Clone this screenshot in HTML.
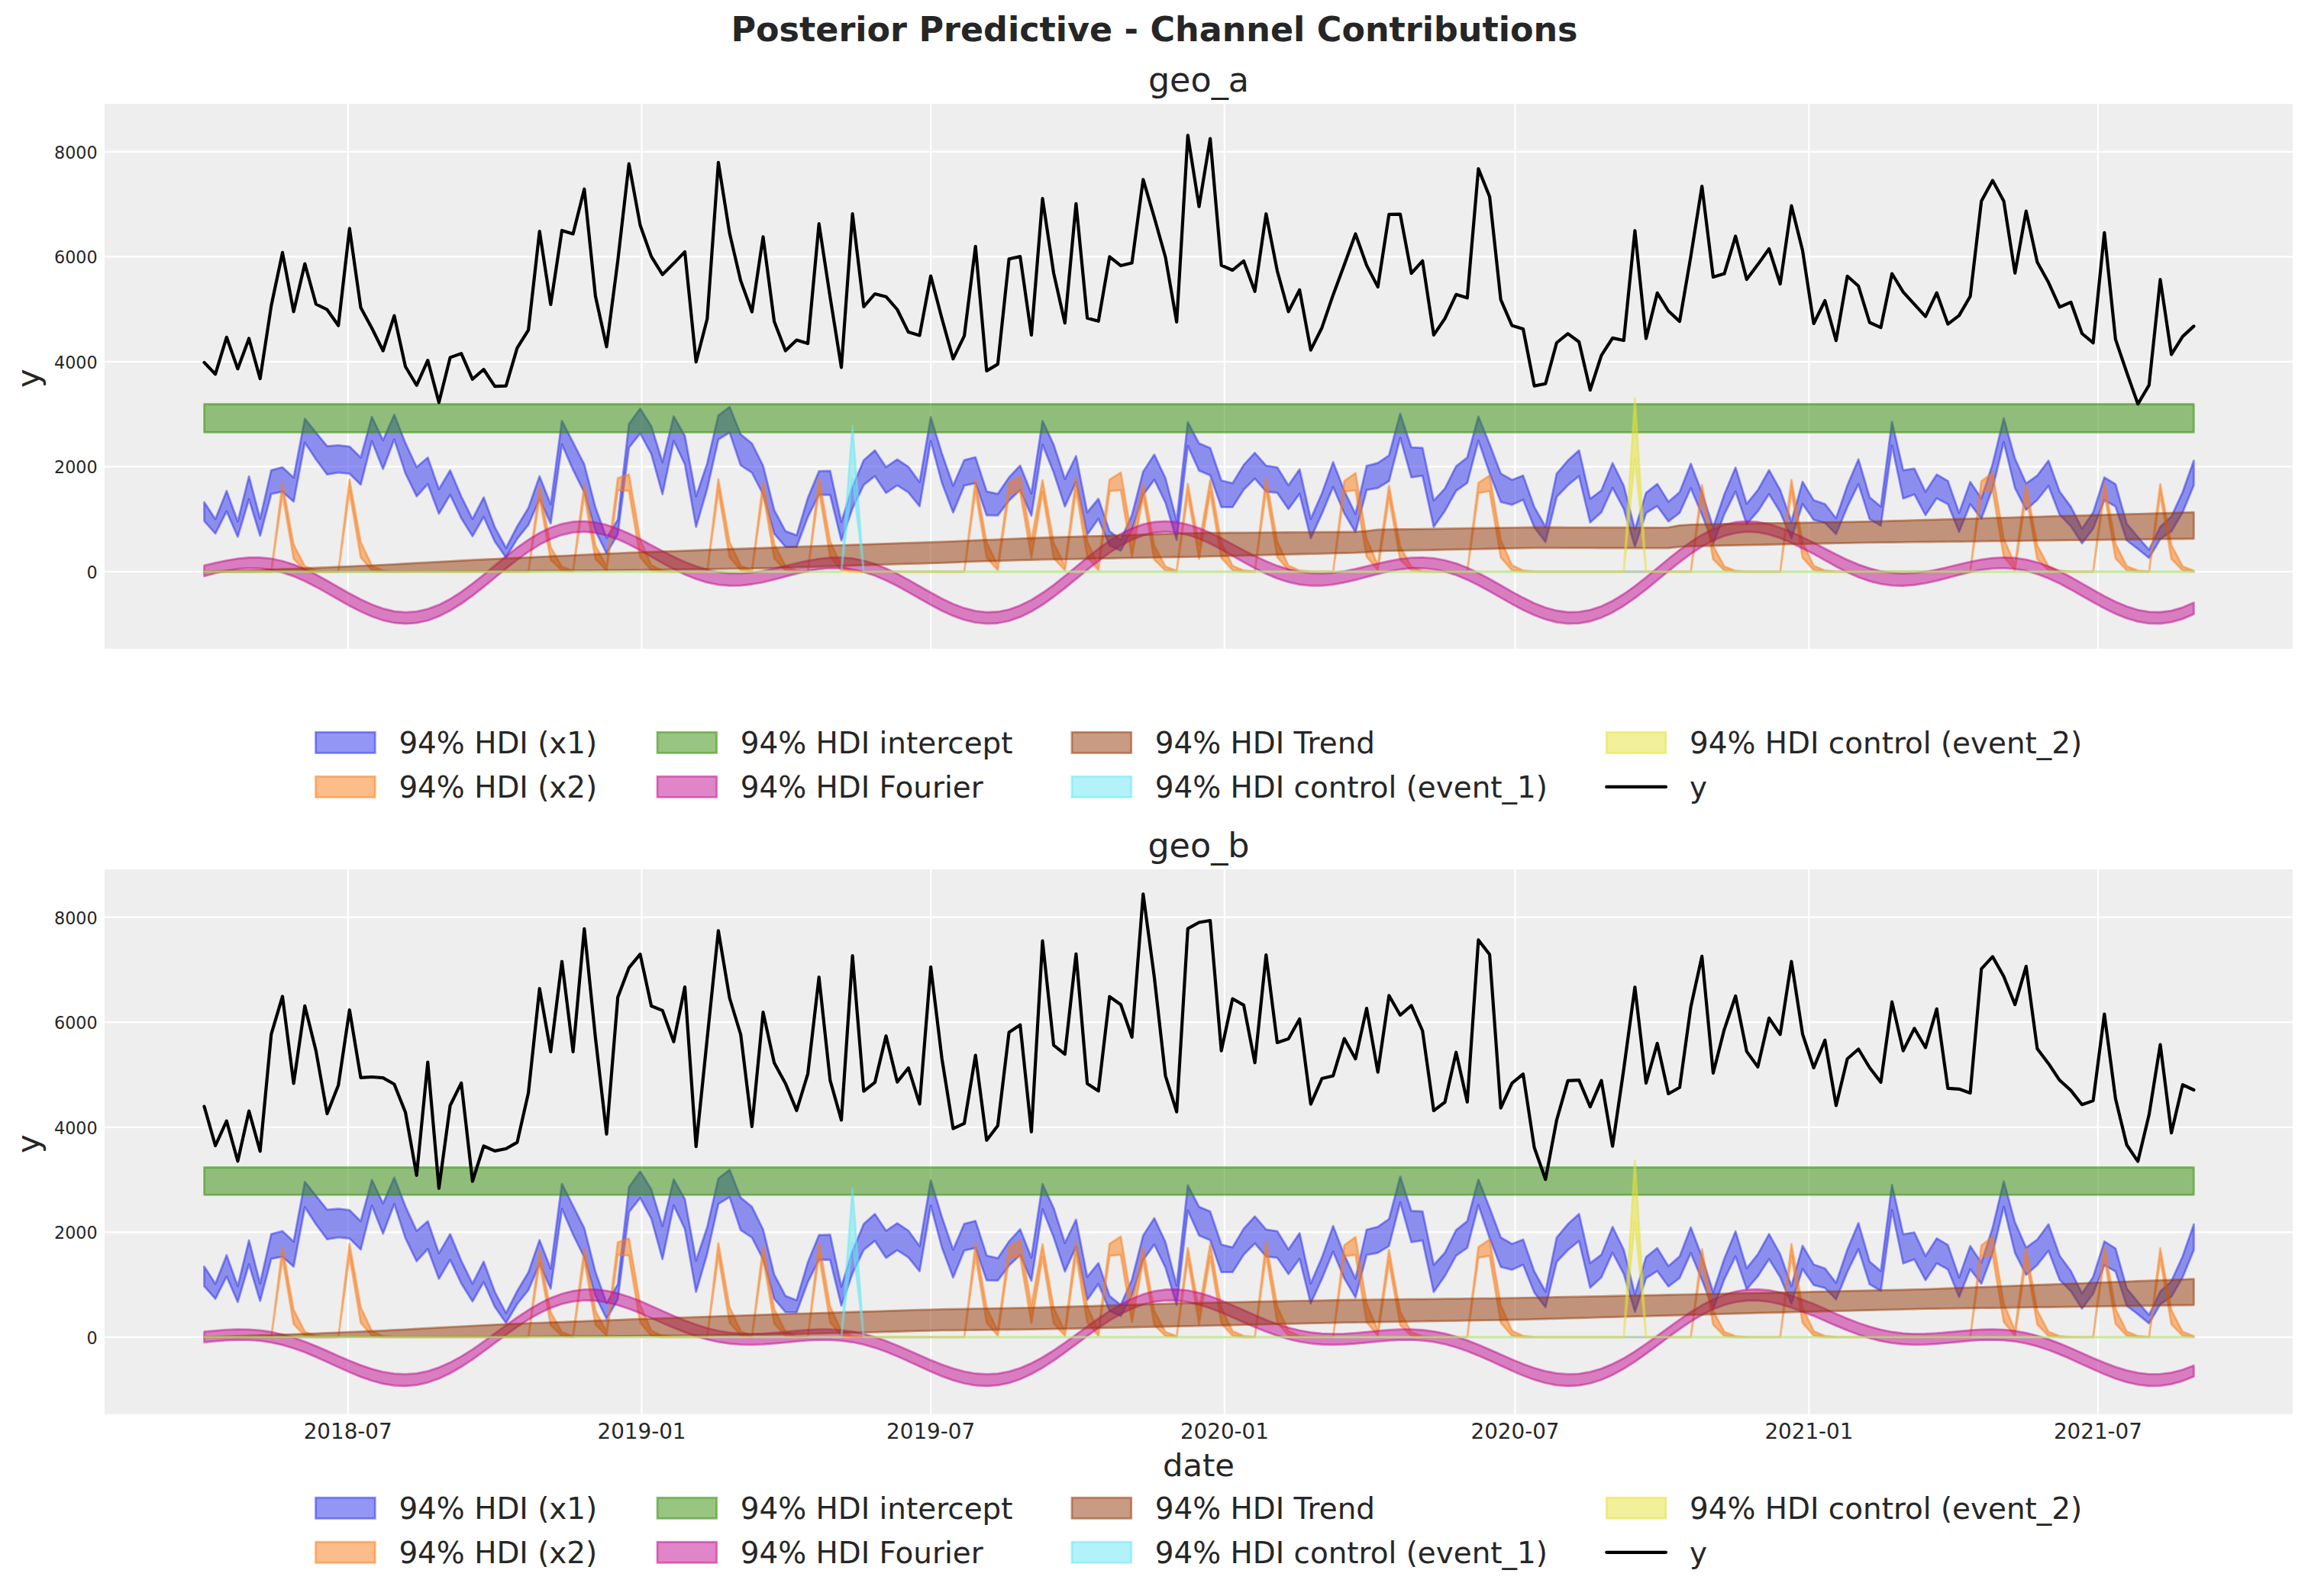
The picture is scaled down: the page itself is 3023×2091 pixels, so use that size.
<!DOCTYPE html>
<html lang="en"><head><meta charset="utf-8"><title>Posterior Predictive - Channel Contributions</title>
<style>html,body{margin:0;padding:0;background:#fff}svg{display:block}</style></head>
<body>
<svg width="3023" height="2091" viewBox="0 0 3023 2091" font-family="'DejaVu Sans', 'Liberation Sans', sans-serif" fill="#262626">
<defs><clipPath id="clip0"><rect x="137.0" y="136.0" width="2865.9" height="713.9"/></clipPath><clipPath id="clip1"><rect x="137.0" y="1138.9" width="2865.9" height="713.9"/></clipPath></defs>
<rect width="3023" height="2091" fill="#ffffff"/>
<text x="1512.0" y="54.2" font-size="44.44" font-weight="bold" text-anchor="middle">Posterior Predictive - Channel Contributions</text>
<rect x="137.0" y="136.0" width="2865.9" height="713.9" fill="#eeeeee"/>
<path d="M455.7,136.0V849.9M840.5,136.0V849.9M1219.1,136.0V849.9M1603.9,136.0V849.9M1984.5,136.0V849.9M2369.4,136.0V849.9M2747.9,136.0V849.9M137.0,749.0H3002.9M137.0,611.4H3002.9M137.0,473.9H3002.9M137.0,336.3H3002.9M137.0,198.8H3002.9" stroke="#ffffff" stroke-width="2.22" fill="none"/>
<g clip-path="url(#clip0)">
<path d="M267.5,657.9 L282.1,680.2 L296.8,643.2 L311.4,683.3 L326.1,624.2 L340.7,679.7 L355.3,616.1 L370.0,612.2 L384.6,625.8 L399.3,548.7 L413.9,566.8 L428.5,584.6 L443.2,583.4 L457.8,585.1 L472.5,599.4 L487.1,546.1 L501.7,576.8 L516.4,543.2 L531.0,580.4 L545.7,612.0 L560.3,599.5 L574.9,641.0 L589.6,616.2 L604.2,650.6 L618.9,680.1 L633.5,651.6 L648.1,690.7 L662.8,718.0 L677.4,689.6 L692.1,665.5 L706.7,623.9 L721.3,660.9 L736.0,551.3 L750.6,579.7 L765.3,608.5 L779.9,664.8 L794.5,705.0 L809.2,680.8 L823.8,555.5 L838.5,535.2 L853.1,558.4 L867.7,605.7 L882.4,545.4 L897.0,571.0 L911.7,650.3 L926.3,607.1 L940.9,544.4 L955.6,533.1 L970.2,569.2 L984.9,581.0 L999.5,610.2 L1014.1,668.4 L1028.8,695.9 L1043.4,701.4 L1058.1,652.4 L1072.7,617.4 L1087.3,616.9 L1102.0,683.9 L1116.6,638.0 L1131.3,603.0 L1145.9,590.1 L1160.5,611.9 L1175.2,602.0 L1189.8,611.6 L1204.5,631.7 L1219.1,546.7 L1233.7,594.1 L1248.4,636.3 L1263.0,602.8 L1277.7,599.1 L1292.3,643.8 L1306.9,647.1 L1321.6,625.5 L1336.2,609.9 L1350.9,646.5 L1365.5,551.5 L1380.1,582.6 L1394.8,627.6 L1409.4,597.5 L1424.1,671.2 L1438.7,653.5 L1453.3,695.9 L1468.0,707.5 L1482.6,674.8 L1497.3,617.9 L1511.9,595.6 L1526.5,626.5 L1541.2,682.5 L1555.8,553.2 L1570.5,580.9 L1585.1,587.0 L1599.7,629.5 L1614.4,633.2 L1629.0,609.1 L1643.6,593.3 L1658.3,610.1 L1672.9,612.3 L1687.6,635.9 L1702.2,614.9 L1716.8,679.9 L1731.5,646.2 L1746.1,605.5 L1760.8,643.2 L1775.4,673.5 L1790.0,610.4 L1804.7,606.6 L1819.3,596.7 L1834.0,542.0 L1848.6,586.2 L1863.2,586.8 L1877.9,655.9 L1892.5,640.1 L1907.2,610.9 L1921.8,599.4 L1936.4,545.7 L1951.1,582.1 L1965.7,620.4 L1980.4,628.7 L1995.0,623.1 L2009.6,664.3 L2024.3,690.3 L2038.9,620.7 L2053.6,603.3 L2068.2,590.1 L2082.8,653.6 L2097.5,642.6 L2112.1,606.7 L2126.8,636.3 L2141.4,693.8 L2156.0,645.6 L2170.7,634.1 L2185.3,657.5 L2200.0,644.8 L2214.6,607.5 L2229.2,645.4 L2243.9,691.0 L2258.5,647.7 L2273.2,612.6 L2287.8,660.2 L2302.4,642.1 L2317.1,616.0 L2331.7,642.0 L2346.4,683.2 L2361.0,631.2 L2375.6,655.4 L2390.3,660.4 L2404.9,679.0 L2419.6,636.1 L2434.2,601.8 L2448.8,651.5 L2463.5,663.8 L2478.1,552.7 L2492.8,616.2 L2507.4,613.9 L2522.0,644.4 L2536.7,621.7 L2551.3,630.1 L2566.0,672.1 L2580.6,631.4 L2595.2,653.0 L2609.9,607.9 L2624.5,548.0 L2639.2,600.9 L2653.8,633.5 L2668.4,623.1 L2683.1,603.5 L2697.7,644.1 L2712.4,663.8 L2727.0,692.7 L2741.6,671.4 L2756.3,625.5 L2770.9,634.5 L2785.6,686.2 L2800.2,703.6 L2814.8,720.4 L2829.5,690.2 L2844.1,676.7 L2858.8,644.8 L2873.4,603.5 L2873.4,635.7 L2858.8,671.2 L2844.1,696.2 L2829.5,706.3 L2814.8,731.0 L2800.2,719.2 L2785.6,708.0 L2770.9,663.6 L2756.3,655.2 L2741.6,692.5 L2727.0,711.8 L2712.4,689.4 L2697.7,674.4 L2683.1,636.5 L2668.4,655.0 L2653.8,667.9 L2639.2,639.4 L2624.5,579.2 L2609.9,639.8 L2595.2,679.4 L2580.6,660.5 L2566.0,696.8 L2551.3,660.6 L2536.7,652.8 L2522.0,674.8 L2507.4,647.7 L2492.8,653.1 L2478.1,583.6 L2463.5,688.7 L2448.8,680.1 L2434.2,634.2 L2419.6,664.2 L2404.9,699.8 L2390.3,684.9 L2375.6,681.2 L2361.0,660.2 L2346.4,705.5 L2331.7,671.0 L2317.1,647.3 L2302.4,669.9 L2287.8,686.6 L2273.2,644.0 L2258.5,673.8 L2243.9,712.4 L2229.2,674.3 L2214.6,639.5 L2200.0,672.0 L2185.3,683.1 L2170.7,662.9 L2156.0,672.1 L2141.4,716.0 L2126.8,666.7 L2112.1,639.0 L2097.5,671.1 L2082.8,684.5 L2068.2,623.7 L2053.6,635.7 L2038.9,651.0 L2024.3,710.1 L2009.6,690.8 L1995.0,654.8 L1980.4,661.3 L1965.7,657.6 L1951.1,620.0 L1936.4,577.1 L1921.8,632.7 L1907.2,643.0 L1892.5,669.4 L1877.9,690.3 L1863.2,623.2 L1848.6,625.4 L1834.0,573.5 L1819.3,630.3 L1804.7,639.3 L1790.0,641.9 L1775.4,697.2 L1760.8,672.5 L1746.1,637.7 L1731.5,672.9 L1716.8,705.1 L1702.2,646.9 L1687.6,666.9 L1672.9,645.6 L1658.3,644.0 L1643.6,626.9 L1629.0,641.6 L1614.4,664.4 L1599.7,664.4 L1585.1,622.8 L1570.5,616.6 L1555.8,584.1 L1541.2,707.3 L1526.5,658.4 L1511.9,628.4 L1497.3,648.5 L1482.6,694.7 L1468.0,721.4 L1453.3,714.7 L1438.7,679.6 L1424.1,700.5 L1409.4,631.3 L1394.8,663.6 L1380.1,619.0 L1365.5,582.6 L1350.9,675.6 L1336.2,642.1 L1321.6,655.8 L1306.9,675.3 L1292.3,675.0 L1277.7,632.9 L1263.0,636.2 L1248.4,671.4 L1233.7,632.4 L1219.1,577.8 L1204.5,663.3 L1189.8,645.1 L1175.2,635.8 L1160.5,645.8 L1145.9,623.7 L1131.3,635.3 L1116.6,666.0 L1102.0,708.0 L1087.3,648.4 L1072.7,648.1 L1058.1,677.3 L1043.4,716.6 L1028.8,716.4 L1014.1,699.2 L999.5,647.6 L984.9,619.3 L970.2,609.7 L955.6,566.6 L940.9,575.7 L926.3,640.4 L911.7,690.3 L897.0,608.2 L882.4,577.5 L867.7,647.5 L853.1,594.9 L838.5,567.8 L823.8,586.4 L809.2,699.9 L794.5,725.0 L779.9,695.5 L765.3,645.0 L750.6,615.6 L736.0,582.1 L721.3,685.9 L706.7,653.8 L692.1,687.6 L677.4,705.9 L662.8,730.4 L648.1,709.5 L633.5,677.1 L618.9,702.5 L604.2,679.0 L589.6,648.2 L574.9,673.0 L560.3,634.2 L545.7,650.2 L531.0,620.1 L516.4,575.6 L501.7,614.4 L487.1,577.9 L472.5,635.0 L457.8,620.6 L443.2,619.1 L428.5,621.7 L413.9,602.0 L399.3,579.8 L384.6,657.2 L370.0,644.2 L355.3,647.1 L340.7,701.9 L326.1,654.0 L311.4,703.3 L296.8,669.9 L282.1,699.1 L267.5,682.6Z" fill="#2a2eec" fill-opacity="0.5" stroke="#2a2eec" stroke-opacity="0.5" stroke-width="2.78" stroke-linejoin="round"/>
<path d="M267.5,749.0 L282.1,749.0 L296.8,749.0 L311.4,749.0 L326.1,749.0 L340.7,749.0 L355.3,749.0 L370.0,633.4 L384.6,713.7 L399.3,741.9 L413.9,747.6 L428.5,748.8 L443.2,749.0 L457.8,628.4 L472.5,710.4 L487.1,741.2 L501.7,747.5 L516.4,748.7 L531.0,749.0 L545.7,749.0 L560.3,749.0 L574.9,749.0 L589.6,749.0 L604.2,749.0 L618.9,749.0 L633.5,749.0 L648.1,749.0 L662.8,749.0 L677.4,749.0 L692.1,749.0 L706.7,637.2 L721.3,716.8 L736.0,742.6 L750.6,747.8 L765.3,634.7 L779.9,714.7 L794.5,742.1 L809.2,626.4 L823.8,621.5 L838.5,706.7 L853.1,740.5 L867.7,747.4 L882.4,748.7 L897.0,749.0 L911.7,749.0 L926.3,749.0 L940.9,627.8 L955.6,710.0 L970.2,741.2 L984.9,747.5 L999.5,632.1 L1014.1,712.8 L1028.8,741.7 L1043.4,747.6 L1058.1,748.8 L1072.7,626.4 L1087.3,709.3 L1102.0,741.0 L1116.6,747.5 L1131.3,748.7 L1145.9,749.0 L1160.5,749.0 L1175.2,749.0 L1189.8,749.0 L1204.5,749.0 L1219.1,749.0 L1233.7,749.0 L1248.4,749.0 L1263.0,749.0 L1277.7,628.9 L1292.3,710.7 L1306.9,741.3 L1321.6,632.7 L1336.2,624.5 L1350.9,708.5 L1365.5,629.1 L1380.1,711.1 L1394.8,741.4 L1409.4,626.2 L1424.1,709.2 L1438.7,741.0 L1453.3,628.5 L1468.0,619.1 L1482.6,705.2 L1497.3,634.6 L1511.9,714.9 L1526.5,742.2 L1541.2,747.7 L1555.8,633.9 L1570.5,714.0 L1585.1,629.0 L1599.7,710.9 L1614.4,741.3 L1629.0,747.5 L1643.6,748.7 L1658.3,626.5 L1672.9,709.3 L1687.6,741.0 L1702.2,747.5 L1716.8,748.7 L1731.5,749.0 L1746.1,749.0 L1760.8,630.2 L1775.4,619.8 L1790.0,705.7 L1804.7,740.2 L1819.3,636.5 L1834.0,716.2 L1848.6,742.5 L1863.2,747.7 L1877.9,748.8 L1892.5,749.0 L1907.2,749.0 L1921.8,749.0 L1936.4,632.7 L1951.1,622.9 L1965.7,707.5 L1980.4,740.6 L1995.0,747.4 L2009.6,748.7 L2024.3,749.0 L2038.9,749.0 L2053.6,749.0 L2068.2,749.0 L2082.8,749.0 L2097.5,749.0 L2112.1,749.0 L2126.8,749.0 L2141.4,749.0 L2156.0,749.0 L2170.7,749.0 L2185.3,749.0 L2200.0,749.0 L2214.6,749.0 L2229.2,635.4 L2243.9,715.2 L2258.5,742.2 L2273.2,747.7 L2287.8,748.8 L2302.4,749.0 L2317.1,749.0 L2331.7,749.0 L2346.4,628.7 L2361.0,710.6 L2375.6,741.3 L2390.3,747.5 L2404.9,748.7 L2419.6,749.0 L2434.2,749.0 L2448.8,749.0 L2463.5,749.0 L2478.1,749.0 L2492.8,749.0 L2507.4,749.0 L2522.0,749.0 L2536.7,749.0 L2551.3,749.0 L2566.0,749.0 L2580.6,749.0 L2595.2,630.4 L2609.9,619.5 L2624.5,705.5 L2639.2,740.2 L2653.8,634.5 L2668.4,714.5 L2683.1,742.1 L2697.7,747.7 L2712.4,748.8 L2727.0,749.0 L2741.6,749.0 L2756.3,631.9 L2770.9,712.6 L2785.6,741.7 L2800.2,747.6 L2814.8,748.7 L2829.5,634.3 L2844.1,714.3 L2858.8,742.0 L2873.4,747.7 L2873.4,748.9 L2858.8,747.2 L2844.1,732.3 L2829.5,647.7 L2814.8,749.0 L2800.2,748.9 L2785.6,747.1 L2770.9,731.5 L2756.3,645.3 L2741.6,749.0 L2727.0,749.0 L2712.4,749.0 L2697.7,748.9 L2683.1,747.3 L2668.4,732.6 L2653.8,648.3 L2639.2,747.0 L2624.5,729.3 L2609.9,642.2 L2595.2,644.2 L2580.6,749.0 L2566.0,749.0 L2551.3,749.0 L2536.7,749.0 L2522.0,749.0 L2507.4,749.0 L2492.8,749.0 L2478.1,749.0 L2463.5,749.0 L2448.8,749.0 L2434.2,749.0 L2419.6,749.0 L2404.9,749.0 L2390.3,748.9 L2375.6,747.0 L2361.0,730.5 L2346.4,643.2 L2331.7,749.0 L2317.1,749.0 L2302.4,749.0 L2287.8,749.0 L2273.2,748.9 L2258.5,747.3 L2243.9,732.8 L2229.2,649.1 L2214.6,749.0 L2200.0,749.0 L2185.3,749.0 L2170.7,749.0 L2156.0,749.0 L2141.4,749.0 L2126.8,749.0 L2112.1,749.0 L2097.5,749.0 L2082.8,749.0 L2068.2,749.0 L2053.6,749.0 L2038.9,749.0 L2024.3,749.0 L2009.6,749.0 L1995.0,748.9 L1980.4,747.1 L1965.7,730.3 L1951.1,643.4 L1936.4,646.0 L1921.8,749.0 L1907.2,749.0 L1892.5,749.0 L1877.9,749.0 L1863.2,748.9 L1848.6,747.4 L1834.0,733.4 L1819.3,651.3 L1804.7,747.0 L1790.0,729.4 L1775.4,642.3 L1760.8,644.1 L1746.1,749.0 L1731.5,749.0 L1716.8,749.0 L1702.2,748.9 L1687.6,747.0 L1672.9,729.8 L1658.3,642.2 L1643.6,749.0 L1629.0,748.9 L1614.4,747.1 L1599.7,731.0 L1585.1,644.4 L1570.5,732.2 L1555.8,647.3 L1541.2,748.9 L1526.5,747.4 L1511.9,733.2 L1497.3,650.1 L1482.6,729.2 L1468.0,642.1 L1453.3,643.4 L1438.7,747.0 L1424.1,729.9 L1409.4,642.3 L1394.8,747.1 L1380.1,731.2 L1365.5,644.7 L1350.9,730.8 L1336.2,644.2 L1321.6,646.3 L1306.9,747.0 L1292.3,730.5 L1277.7,643.3 L1263.0,749.0 L1248.4,749.0 L1233.7,749.0 L1219.1,749.0 L1204.5,749.0 L1189.8,749.0 L1175.2,749.0 L1160.5,749.0 L1145.9,749.0 L1131.3,749.0 L1116.6,748.9 L1102.0,747.0 L1087.3,729.8 L1072.7,642.2 L1058.1,749.0 L1043.4,748.9 L1028.8,747.2 L1014.1,731.6 L999.5,645.6 L984.9,748.9 L970.2,747.0 L955.6,730.2 L940.9,642.7 L926.3,749.0 L911.7,749.0 L897.0,749.0 L882.4,749.0 L867.7,748.9 L853.1,747.1 L838.5,730.0 L823.8,643.1 L809.2,642.4 L794.5,747.3 L779.9,732.5 L765.3,648.3 L750.6,748.9 L736.0,747.4 L721.3,733.5 L706.7,651.9 L692.1,749.0 L677.4,749.0 L662.8,749.0 L648.1,749.0 L633.5,749.0 L618.9,749.0 L604.2,749.0 L589.6,749.0 L574.9,749.0 L560.3,749.0 L545.7,749.0 L531.0,749.0 L516.4,749.0 L501.7,748.9 L487.1,747.0 L472.5,730.4 L457.8,643.1 L443.2,749.0 L428.5,749.0 L413.9,748.9 L399.3,747.2 L384.6,732.0 L370.0,646.7 L355.3,749.0 L340.7,749.0 L326.1,749.0 L311.4,749.0 L296.8,749.0 L282.1,749.0 L267.5,749.0Z" fill="#fa7c17" fill-opacity="0.5" stroke="#fa7c17" stroke-opacity="0.5" stroke-width="2.78" stroke-linejoin="round"/>
<path d="M267.5,529.5 L282.1,529.5 L296.8,529.5 L311.4,529.5 L326.1,529.5 L340.7,529.5 L355.3,529.5 L370.0,529.5 L384.6,529.5 L399.3,529.5 L413.9,529.5 L428.5,529.5 L443.2,529.5 L457.8,529.5 L472.5,529.5 L487.1,529.5 L501.7,529.5 L516.4,529.5 L531.0,529.5 L545.7,529.5 L560.3,529.5 L574.9,529.5 L589.6,529.5 L604.2,529.5 L618.9,529.5 L633.5,529.5 L648.1,529.5 L662.8,529.5 L677.4,529.5 L692.1,529.5 L706.7,529.5 L721.3,529.5 L736.0,529.5 L750.6,529.5 L765.3,529.5 L779.9,529.5 L794.5,529.5 L809.2,529.5 L823.8,529.5 L838.5,529.5 L853.1,529.5 L867.7,529.5 L882.4,529.5 L897.0,529.5 L911.7,529.5 L926.3,529.5 L940.9,529.5 L955.6,529.5 L970.2,529.5 L984.9,529.5 L999.5,529.5 L1014.1,529.5 L1028.8,529.5 L1043.4,529.5 L1058.1,529.5 L1072.7,529.5 L1087.3,529.5 L1102.0,529.5 L1116.6,529.5 L1131.3,529.5 L1145.9,529.5 L1160.5,529.5 L1175.2,529.5 L1189.8,529.5 L1204.5,529.5 L1219.1,529.5 L1233.7,529.5 L1248.4,529.5 L1263.0,529.5 L1277.7,529.5 L1292.3,529.5 L1306.9,529.5 L1321.6,529.5 L1336.2,529.5 L1350.9,529.5 L1365.5,529.5 L1380.1,529.5 L1394.8,529.5 L1409.4,529.5 L1424.1,529.5 L1438.7,529.5 L1453.3,529.5 L1468.0,529.5 L1482.6,529.5 L1497.3,529.5 L1511.9,529.5 L1526.5,529.5 L1541.2,529.5 L1555.8,529.5 L1570.5,529.5 L1585.1,529.5 L1599.7,529.5 L1614.4,529.5 L1629.0,529.5 L1643.6,529.5 L1658.3,529.5 L1672.9,529.5 L1687.6,529.5 L1702.2,529.5 L1716.8,529.5 L1731.5,529.5 L1746.1,529.5 L1760.8,529.5 L1775.4,529.5 L1790.0,529.5 L1804.7,529.5 L1819.3,529.5 L1834.0,529.5 L1848.6,529.5 L1863.2,529.5 L1877.9,529.5 L1892.5,529.5 L1907.2,529.5 L1921.8,529.5 L1936.4,529.5 L1951.1,529.5 L1965.7,529.5 L1980.4,529.5 L1995.0,529.5 L2009.6,529.5 L2024.3,529.5 L2038.9,529.5 L2053.6,529.5 L2068.2,529.5 L2082.8,529.5 L2097.5,529.5 L2112.1,529.5 L2126.8,529.5 L2141.4,529.5 L2156.0,529.5 L2170.7,529.5 L2185.3,529.5 L2200.0,529.5 L2214.6,529.5 L2229.2,529.5 L2243.9,529.5 L2258.5,529.5 L2273.2,529.5 L2287.8,529.5 L2302.4,529.5 L2317.1,529.5 L2331.7,529.5 L2346.4,529.5 L2361.0,529.5 L2375.6,529.5 L2390.3,529.5 L2404.9,529.5 L2419.6,529.5 L2434.2,529.5 L2448.8,529.5 L2463.5,529.5 L2478.1,529.5 L2492.8,529.5 L2507.4,529.5 L2522.0,529.5 L2536.7,529.5 L2551.3,529.5 L2566.0,529.5 L2580.6,529.5 L2595.2,529.5 L2609.9,529.5 L2624.5,529.5 L2639.2,529.5 L2653.8,529.5 L2668.4,529.5 L2683.1,529.5 L2697.7,529.5 L2712.4,529.5 L2727.0,529.5 L2741.6,529.5 L2756.3,529.5 L2770.9,529.5 L2785.6,529.5 L2800.2,529.5 L2814.8,529.5 L2829.5,529.5 L2844.1,529.5 L2858.8,529.5 L2873.4,529.5 L2873.4,566.4 L2858.8,566.4 L2844.1,566.4 L2829.5,566.4 L2814.8,566.4 L2800.2,566.4 L2785.6,566.4 L2770.9,566.4 L2756.3,566.4 L2741.6,566.4 L2727.0,566.4 L2712.4,566.4 L2697.7,566.4 L2683.1,566.4 L2668.4,566.4 L2653.8,566.4 L2639.2,566.4 L2624.5,566.4 L2609.9,566.4 L2595.2,566.4 L2580.6,566.4 L2566.0,566.4 L2551.3,566.4 L2536.7,566.4 L2522.0,566.4 L2507.4,566.4 L2492.8,566.4 L2478.1,566.4 L2463.5,566.4 L2448.8,566.4 L2434.2,566.4 L2419.6,566.4 L2404.9,566.4 L2390.3,566.4 L2375.6,566.4 L2361.0,566.4 L2346.4,566.4 L2331.7,566.4 L2317.1,566.4 L2302.4,566.4 L2287.8,566.4 L2273.2,566.4 L2258.5,566.4 L2243.9,566.4 L2229.2,566.4 L2214.6,566.4 L2200.0,566.4 L2185.3,566.4 L2170.7,566.4 L2156.0,566.4 L2141.4,566.4 L2126.8,566.4 L2112.1,566.4 L2097.5,566.4 L2082.8,566.4 L2068.2,566.4 L2053.6,566.4 L2038.9,566.4 L2024.3,566.4 L2009.6,566.4 L1995.0,566.4 L1980.4,566.4 L1965.7,566.4 L1951.1,566.4 L1936.4,566.4 L1921.8,566.4 L1907.2,566.4 L1892.5,566.4 L1877.9,566.4 L1863.2,566.4 L1848.6,566.4 L1834.0,566.4 L1819.3,566.4 L1804.7,566.4 L1790.0,566.4 L1775.4,566.4 L1760.8,566.4 L1746.1,566.4 L1731.5,566.4 L1716.8,566.4 L1702.2,566.4 L1687.6,566.4 L1672.9,566.4 L1658.3,566.4 L1643.6,566.4 L1629.0,566.4 L1614.4,566.4 L1599.7,566.4 L1585.1,566.4 L1570.5,566.4 L1555.8,566.4 L1541.2,566.4 L1526.5,566.4 L1511.9,566.4 L1497.3,566.4 L1482.6,566.4 L1468.0,566.4 L1453.3,566.4 L1438.7,566.4 L1424.1,566.4 L1409.4,566.4 L1394.8,566.4 L1380.1,566.4 L1365.5,566.4 L1350.9,566.4 L1336.2,566.4 L1321.6,566.4 L1306.9,566.4 L1292.3,566.4 L1277.7,566.4 L1263.0,566.4 L1248.4,566.4 L1233.7,566.4 L1219.1,566.4 L1204.5,566.4 L1189.8,566.4 L1175.2,566.4 L1160.5,566.4 L1145.9,566.4 L1131.3,566.4 L1116.6,566.4 L1102.0,566.4 L1087.3,566.4 L1072.7,566.4 L1058.1,566.4 L1043.4,566.4 L1028.8,566.4 L1014.1,566.4 L999.5,566.4 L984.9,566.4 L970.2,566.4 L955.6,566.4 L940.9,566.4 L926.3,566.4 L911.7,566.4 L897.0,566.4 L882.4,566.4 L867.7,566.4 L853.1,566.4 L838.5,566.4 L823.8,566.4 L809.2,566.4 L794.5,566.4 L779.9,566.4 L765.3,566.4 L750.6,566.4 L736.0,566.4 L721.3,566.4 L706.7,566.4 L692.1,566.4 L677.4,566.4 L662.8,566.4 L648.1,566.4 L633.5,566.4 L618.9,566.4 L604.2,566.4 L589.6,566.4 L574.9,566.4 L560.3,566.4 L545.7,566.4 L531.0,566.4 L516.4,566.4 L501.7,566.4 L487.1,566.4 L472.5,566.4 L457.8,566.4 L443.2,566.4 L428.5,566.4 L413.9,566.4 L399.3,566.4 L384.6,566.4 L370.0,566.4 L355.3,566.4 L340.7,566.4 L326.1,566.4 L311.4,566.4 L296.8,566.4 L282.1,566.4 L267.5,566.4Z" fill="#328c06" fill-opacity="0.5" stroke="#328c06" stroke-opacity="0.5" stroke-width="2.78" stroke-linejoin="round"/>
<path d="M267.5,740.9 L282.1,737.4 L296.8,734.3 L311.4,731.8 L326.1,730.5 L340.7,730.5 L355.3,731.9 L370.0,735.0 L384.6,739.6 L399.3,745.6 L413.9,752.8 L428.5,760.8 L443.2,769.2 L457.8,777.5 L472.5,785.3 L487.1,792.0 L501.7,797.3 L516.4,800.8 L531.0,802.2 L545.7,801.2 L560.3,797.9 L574.9,792.4 L589.6,784.8 L604.2,775.4 L618.9,764.6 L633.5,753.0 L648.1,740.9 L662.8,728.9 L677.4,717.5 L692.1,707.2 L706.7,698.3 L721.3,691.3 L736.0,686.4 L750.6,683.5 L765.3,682.9 L779.9,684.4 L794.5,687.7 L809.2,692.7 L823.8,699.0 L838.5,706.2 L853.1,714.2 L867.7,722.0 L882.4,729.5 L897.0,736.2 L911.7,741.9 L926.3,746.4 L940.9,749.5 L955.6,751.1 L970.2,751.2 L984.9,750.1 L999.5,747.9 L1014.1,744.9 L1028.8,741.4 L1043.4,737.9 L1058.1,734.7 L1072.7,732.1 L1087.3,730.6 L1102.0,730.4 L1116.6,731.6 L1131.3,734.5 L1145.9,738.9 L1160.5,744.7 L1175.2,751.7 L1189.8,759.6 L1204.5,768.0 L1219.1,776.3 L1233.7,784.2 L1248.4,791.2 L1263.0,796.7 L1277.7,800.4 L1292.3,802.1 L1306.9,801.5 L1321.6,798.6 L1336.2,793.3 L1350.9,786.0 L1365.5,776.8 L1380.1,766.3 L1394.8,754.7 L1409.4,742.6 L1424.1,730.5 L1438.7,719.0 L1453.3,708.5 L1468.0,699.5 L1482.6,692.2 L1497.3,686.9 L1511.9,683.8 L1526.5,682.9 L1541.2,684.0 L1555.8,687.2 L1570.5,691.9 L1585.1,698.1 L1599.7,705.2 L1614.4,713.1 L1629.0,720.9 L1643.6,728.4 L1658.3,735.3 L1672.9,741.2 L1687.6,745.8 L1702.2,749.1 L1716.8,750.9 L1731.5,751.3 L1746.1,750.3 L1760.8,748.3 L1775.4,745.4 L1790.0,741.9 L1804.7,738.4 L1819.3,735.1 L1834.0,732.4 L1848.6,730.7 L1863.2,730.3 L1877.9,731.4 L1892.5,734.0 L1907.2,738.1 L1921.8,743.8 L1936.4,750.7 L1951.1,758.4 L1965.7,766.8 L1980.4,775.2 L1995.0,783.1 L2009.6,790.2 L2024.3,796.0 L2038.9,800.0 L2053.6,802.0 L2068.2,801.7 L2082.8,799.1 L2097.5,794.2 L2112.1,787.2 L2126.8,778.3 L2141.4,767.8 L2156.0,756.4 L2170.7,744.3 L2185.3,732.2 L2200.0,720.6 L2214.6,710.0 L2229.2,700.7 L2243.9,693.1 L2258.5,687.6 L2273.2,684.1 L2287.8,682.9 L2302.4,683.8 L2317.1,686.6 L2331.7,691.2 L2346.4,697.1 L2361.0,704.1 L2375.6,710.9 L2390.3,718.7 L2404.9,726.3 L2419.6,733.4 L2434.2,739.6 L2448.8,744.6 L2463.5,748.3 L2478.1,750.5 L2492.8,751.3 L2507.4,750.7 L2522.0,749.0 L2536.7,746.3 L2551.3,743.0 L2566.0,739.4 L2580.6,736.0 L2595.2,733.1 L2609.9,731.1 L2624.5,730.3 L2639.2,730.9 L2653.8,733.1 L2668.4,736.8 L2683.1,742.0 L2697.7,748.6 L2712.4,756.1 L2727.0,764.4 L2741.6,772.8 L2756.3,780.9 L2770.9,788.3 L2785.6,794.5 L2800.2,799.1 L2814.8,801.6 L2829.5,802.0 L2844.1,800.1 L2858.8,795.8 L2873.4,789.4 L2873.4,804.6 L2858.8,810.9 L2844.1,815.1 L2829.5,817.0 L2814.8,816.8 L2800.2,814.4 L2785.6,810.1 L2770.9,804.2 L2756.3,797.0 L2741.6,789.0 L2727.0,780.7 L2712.4,772.4 L2697.7,764.6 L2683.1,757.7 L2668.4,752.1 L2653.8,747.9 L2639.2,745.3 L2624.5,744.3 L2609.9,744.8 L2595.2,746.6 L2580.6,749.6 L2566.0,753.2 L2551.3,757.1 L2536.7,760.8 L2522.0,764.1 L2507.4,766.4 L2492.8,767.5 L2478.1,767.1 L2463.5,765.1 L2448.8,761.4 L2434.2,756.3 L2419.6,749.8 L2404.9,742.3 L2390.3,734.1 L2375.6,725.8 L2361.0,718.6 L2346.4,711.2 L2331.7,704.9 L2317.1,700.3 L2302.4,697.4 L2287.8,696.7 L2273.2,698.3 L2258.5,702.1 L2243.9,708.1 L2229.2,716.0 L2214.6,725.7 L2200.0,736.6 L2185.3,748.3 L2170.7,760.3 L2156.0,772.3 L2141.4,783.6 L2126.8,793.7 L2112.1,802.4 L2097.5,809.3 L2082.8,814.1 L2068.2,816.7 L2053.6,817.1 L2038.9,815.3 L2024.3,811.5 L2009.6,806.0 L1995.0,799.2 L1980.4,791.4 L1965.7,783.1 L1951.1,774.7 L1936.4,766.7 L1921.8,759.6 L1907.2,753.5 L1892.5,748.9 L1877.9,745.8 L1863.2,744.4 L1848.6,744.5 L1834.0,746.0 L1819.3,748.6 L1804.7,752.1 L1790.0,755.9 L1775.4,759.8 L1760.8,763.2 L1746.1,765.8 L1731.5,767.3 L1716.8,767.3 L1702.2,765.8 L1687.6,762.6 L1672.9,757.9 L1658.3,751.7 L1643.6,744.5 L1629.0,736.5 L1614.4,728.2 L1599.7,719.7 L1585.1,712.2 L1570.5,705.8 L1555.8,700.8 L1541.2,697.7 L1526.5,696.7 L1511.9,697.9 L1497.3,701.4 L1482.6,707.1 L1468.0,714.8 L1453.3,724.2 L1438.7,734.9 L1424.1,746.6 L1409.4,758.6 L1394.8,770.6 L1380.1,782.0 L1365.5,792.4 L1350.9,801.3 L1336.2,808.4 L1321.6,813.5 L1306.9,816.5 L1292.3,817.1 L1277.7,815.6 L1263.0,812.1 L1248.4,806.9 L1233.7,800.2 L1219.1,792.5 L1204.5,784.3 L1189.8,775.9 L1175.2,767.8 L1160.5,760.5 L1145.9,754.3 L1131.3,749.5 L1116.6,746.2 L1102.0,744.5 L1087.3,744.4 L1072.7,745.7 L1058.1,748.2 L1043.4,751.6 L1028.8,755.4 L1014.1,759.3 L999.5,762.8 L984.9,765.5 L970.2,767.2 L955.6,767.4 L940.9,766.1 L926.3,763.2 L911.7,758.6 L897.0,752.7 L882.4,745.6 L867.7,737.7 L853.1,729.4 L838.5,720.9 L823.8,713.2 L809.2,706.6 L794.5,701.4 L779.9,698.0 L765.3,696.7 L750.6,697.6 L736.0,700.8 L721.3,706.2 L706.7,713.6 L692.1,722.8 L677.4,733.3 L662.8,744.9 L648.1,756.9 L633.5,768.9 L618.9,780.4 L604.2,791.0 L589.6,800.1 L574.9,807.5 L560.3,813.0 L545.7,816.2 L531.0,817.2 L516.4,816.0 L501.7,812.8 L487.1,807.7 L472.5,801.2 L457.8,793.7 L443.2,785.5 L428.5,777.1 L413.9,768.9 L399.3,761.5 L384.6,755.1 L370.0,750.1 L355.3,746.5 L340.7,744.6 L326.1,744.3 L311.4,745.4 L296.8,747.8 L282.1,751.0 L267.5,754.8Z" fill="#c10c90" fill-opacity="0.5" stroke="#c10c90" stroke-opacity="0.5" stroke-width="2.78" stroke-linejoin="round"/>
<path d="M267.5,749.0 L282.1,748.5 L296.8,748.0 L311.4,747.5 L326.1,747.1 L340.7,746.6 L355.3,746.1 L370.0,745.6 L384.6,745.1 L399.3,744.6 L413.9,744.0 L428.5,743.4 L443.2,742.7 L457.8,742.1 L472.5,741.4 L487.1,740.8 L501.7,740.1 L516.4,739.3 L531.0,738.5 L545.7,737.7 L560.3,736.9 L574.9,736.1 L589.6,735.3 L604.2,734.5 L618.9,733.7 L633.5,733.0 L648.1,732.3 L662.8,731.6 L677.4,731.0 L692.1,730.3 L706.7,729.6 L721.3,728.9 L736.0,728.3 L750.6,727.6 L765.3,726.9 L779.9,726.2 L794.5,725.5 L809.2,724.9 L823.8,724.2 L838.5,723.6 L853.1,723.1 L867.7,722.6 L882.4,722.1 L897.0,721.6 L911.7,721.0 L926.3,720.5 L940.9,720.0 L955.6,719.5 L970.2,719.0 L984.9,718.5 L999.5,718.0 L1014.1,717.5 L1028.8,716.9 L1043.4,716.4 L1058.1,715.9 L1072.7,715.4 L1087.3,714.8 L1102.0,714.3 L1116.6,713.8 L1131.3,713.3 L1145.9,712.8 L1160.5,712.3 L1175.2,711.8 L1189.8,711.4 L1204.5,710.9 L1219.1,710.4 L1233.7,709.9 L1248.4,709.3 L1263.0,708.7 L1277.7,708.0 L1292.3,707.4 L1306.9,706.8 L1321.6,706.2 L1336.2,705.6 L1350.9,705.0 L1365.5,704.5 L1380.1,704.0 L1394.8,703.6 L1409.4,703.1 L1424.1,702.7 L1438.7,702.3 L1453.3,701.8 L1468.0,701.4 L1482.6,700.9 L1497.3,700.5 L1511.9,700.0 L1526.5,699.6 L1541.2,699.2 L1555.8,698.7 L1570.5,698.3 L1585.1,698.2 L1599.7,698.1 L1614.4,698.0 L1629.0,697.9 L1643.6,697.8 L1658.3,697.7 L1672.9,697.6 L1687.6,697.5 L1702.2,697.4 L1716.8,697.3 L1731.5,697.2 L1746.1,697.1 L1760.8,697.0 L1775.4,696.9 L1790.0,695.8 L1804.7,693.9 L1819.3,693.7 L1834.0,693.5 L1848.6,693.3 L1863.2,693.1 L1877.9,692.9 L1892.5,692.7 L1907.2,692.4 L1921.8,692.2 L1936.4,692.0 L1951.1,691.8 L1965.7,691.6 L1980.4,691.4 L1995.0,691.2 L2009.6,691.0 L2024.3,691.0 L2038.9,691.0 L2053.6,691.1 L2068.2,691.1 L2082.8,691.1 L2097.5,691.2 L2112.1,691.2 L2126.8,691.2 L2141.4,691.3 L2156.0,691.3 L2170.7,691.3 L2185.3,691.1 L2200.0,688.3 L2214.6,687.3 L2229.2,687.0 L2243.9,686.8 L2258.5,686.5 L2273.2,686.3 L2287.8,686.0 L2302.4,685.8 L2317.1,685.5 L2331.7,685.3 L2346.4,685.1 L2361.0,684.8 L2375.6,684.6 L2390.3,684.3 L2404.9,684.1 L2419.6,683.8 L2434.2,683.6 L2448.8,683.3 L2463.5,682.9 L2478.1,682.5 L2492.8,682.1 L2507.4,681.7 L2522.0,681.2 L2536.7,680.8 L2551.3,680.4 L2566.0,680.0 L2580.6,679.6 L2595.2,679.2 L2609.9,678.7 L2624.5,678.3 L2639.2,677.9 L2653.8,677.5 L2668.4,677.1 L2683.1,676.6 L2697.7,676.2 L2712.4,675.8 L2727.0,675.4 L2741.6,675.0 L2756.3,674.6 L2770.9,674.1 L2785.6,673.7 L2800.2,673.3 L2814.8,672.9 L2829.5,672.5 L2844.1,672.1 L2858.8,671.6 L2873.4,671.2 L2873.4,705.8 L2858.8,706.0 L2844.1,706.2 L2829.5,706.3 L2814.8,706.5 L2800.2,706.7 L2785.6,706.9 L2770.9,707.0 L2756.3,707.2 L2741.6,707.4 L2727.0,707.5 L2712.4,707.7 L2697.7,707.9 L2683.1,708.1 L2668.4,708.2 L2653.8,708.4 L2639.2,708.6 L2624.5,708.8 L2609.9,708.9 L2595.2,709.1 L2580.6,709.3 L2566.0,709.5 L2551.3,709.6 L2536.7,709.8 L2522.0,710.0 L2507.4,710.1 L2492.8,710.3 L2478.1,710.5 L2463.5,710.7 L2448.8,710.8 L2434.2,711.1 L2419.6,711.4 L2404.9,711.7 L2390.3,712.0 L2375.6,712.3 L2361.0,712.6 L2346.4,712.9 L2331.7,713.2 L2317.1,713.5 L2302.4,713.8 L2287.8,714.1 L2273.2,714.4 L2258.5,714.7 L2243.9,715.0 L2229.2,715.3 L2214.6,715.6 L2200.0,716.3 L2185.3,718.0 L2170.7,718.1 L2156.0,718.1 L2141.4,718.0 L2126.8,718.0 L2112.1,718.0 L2097.5,718.0 L2082.8,717.9 L2068.2,717.9 L2053.6,717.9 L2038.9,717.8 L2024.3,717.8 L2009.6,717.8 L1995.0,718.1 L1980.4,718.4 L1965.7,718.7 L1951.1,719.0 L1936.4,719.3 L1921.8,719.6 L1907.2,719.9 L1892.5,720.2 L1877.9,720.5 L1863.2,720.8 L1848.6,721.1 L1834.0,721.4 L1819.3,721.7 L1804.7,722.0 L1790.0,723.3 L1775.4,724.2 L1760.8,724.5 L1746.1,724.9 L1731.5,725.3 L1716.8,725.6 L1702.2,726.0 L1687.6,726.4 L1672.9,726.7 L1658.3,727.1 L1643.6,727.5 L1629.0,727.8 L1614.4,728.2 L1599.7,728.6 L1585.1,728.9 L1570.5,729.3 L1555.8,729.6 L1541.2,729.9 L1526.5,730.1 L1511.9,730.4 L1497.3,730.7 L1482.6,730.9 L1468.0,731.2 L1453.3,731.5 L1438.7,731.7 L1424.1,732.0 L1409.4,732.3 L1394.8,732.6 L1380.1,732.8 L1365.5,733.1 L1350.9,733.5 L1336.2,733.9 L1321.6,734.3 L1306.9,734.8 L1292.3,735.2 L1277.7,735.6 L1263.0,736.2 L1248.4,736.9 L1233.7,737.4 L1219.1,737.9 L1204.5,738.3 L1189.8,738.7 L1175.2,739.1 L1160.5,739.6 L1145.9,740.0 L1131.3,740.4 L1116.6,740.9 L1102.0,741.4 L1087.3,741.8 L1072.7,742.3 L1058.1,742.8 L1043.4,743.2 L1028.8,743.7 L1014.1,744.2 L999.5,744.5 L984.9,744.7 L970.2,744.9 L955.6,745.1 L940.9,745.3 L926.3,745.5 L911.7,745.7 L897.0,745.9 L882.4,746.1 L867.7,746.3 L853.1,746.6 L838.5,746.8 L823.8,746.9 L809.2,747.1 L794.5,747.2 L779.9,747.3 L765.3,747.5 L750.6,747.6 L736.0,747.8 L721.3,747.9 L706.7,748.0 L692.1,748.2 L677.4,748.2 L662.8,748.3 L648.1,748.4 L633.5,748.4 L618.9,748.5 L604.2,748.5 L589.6,748.5 L574.9,748.6 L560.3,748.6 L545.7,748.7 L531.0,748.7 L516.4,748.8 L501.7,748.8 L487.1,748.8 L472.5,748.8 L457.8,748.8 L443.2,748.8 L428.5,748.9 L413.9,748.9 L399.3,748.9 L384.6,748.9 L370.0,748.9 L355.3,748.9 L340.7,748.9 L326.1,749.0 L311.4,749.0 L296.8,749.0 L282.1,749.0 L267.5,749.0Z" fill="#933708" fill-opacity="0.5" stroke="#933708" stroke-opacity="0.5" stroke-width="2.78" stroke-linejoin="round"/>
<path d="M267.5,749.0 L282.1,749.0 L296.8,749.0 L311.4,749.0 L326.1,749.0 L340.7,749.0 L355.3,749.0 L370.0,749.0 L384.6,749.0 L399.3,749.0 L413.9,749.0 L428.5,749.0 L443.2,749.0 L457.8,749.0 L472.5,749.0 L487.1,749.0 L501.7,749.0 L516.4,749.0 L531.0,749.0 L545.7,749.0 L560.3,749.0 L574.9,749.0 L589.6,749.0 L604.2,749.0 L618.9,749.0 L633.5,749.0 L648.1,749.0 L662.8,749.0 L677.4,749.0 L692.1,749.0 L706.7,749.0 L721.3,749.0 L736.0,749.0 L750.6,749.0 L765.3,749.0 L779.9,749.0 L794.5,749.0 L809.2,749.0 L823.8,749.0 L838.5,749.0 L853.1,749.0 L867.7,749.0 L882.4,749.0 L897.0,749.0 L911.7,749.0 L926.3,749.0 L940.9,749.0 L955.6,749.0 L970.2,749.0 L984.9,749.0 L999.5,749.0 L1014.1,749.0 L1028.8,749.0 L1043.4,749.0 L1058.1,749.0 L1072.7,749.0 L1087.3,749.0 L1102.0,749.0 L1116.6,557.8 L1131.3,749.0 L1145.9,749.0 L1160.5,749.0 L1175.2,749.0 L1189.8,749.0 L1204.5,749.0 L1219.1,749.0 L1233.7,749.0 L1248.4,749.0 L1263.0,749.0 L1277.7,749.0 L1292.3,749.0 L1306.9,749.0 L1321.6,749.0 L1336.2,749.0 L1350.9,749.0 L1365.5,749.0 L1380.1,749.0 L1394.8,749.0 L1409.4,749.0 L1424.1,749.0 L1438.7,749.0 L1453.3,749.0 L1468.0,749.0 L1482.6,749.0 L1497.3,749.0 L1511.9,749.0 L1526.5,749.0 L1541.2,749.0 L1555.8,749.0 L1570.5,749.0 L1585.1,749.0 L1599.7,749.0 L1614.4,749.0 L1629.0,749.0 L1643.6,749.0 L1658.3,749.0 L1672.9,749.0 L1687.6,749.0 L1702.2,749.0 L1716.8,749.0 L1731.5,749.0 L1746.1,749.0 L1760.8,749.0 L1775.4,749.0 L1790.0,749.0 L1804.7,749.0 L1819.3,749.0 L1834.0,749.0 L1848.6,749.0 L1863.2,749.0 L1877.9,749.0 L1892.5,749.0 L1907.2,749.0 L1921.8,749.0 L1936.4,749.0 L1951.1,749.0 L1965.7,749.0 L1980.4,749.0 L1995.0,749.0 L2009.6,749.0 L2024.3,749.0 L2038.9,749.0 L2053.6,749.0 L2068.2,749.0 L2082.8,749.0 L2097.5,749.0 L2112.1,749.0 L2126.8,749.0 L2141.4,749.0 L2156.0,749.0 L2170.7,749.0 L2185.3,749.0 L2200.0,749.0 L2214.6,749.0 L2229.2,749.0 L2243.9,749.0 L2258.5,749.0 L2273.2,749.0 L2287.8,749.0 L2302.4,749.0 L2317.1,749.0 L2331.7,749.0 L2346.4,749.0 L2361.0,749.0 L2375.6,749.0 L2390.3,749.0 L2404.9,749.0 L2419.6,749.0 L2434.2,749.0 L2448.8,749.0 L2463.5,749.0 L2478.1,749.0 L2492.8,749.0 L2507.4,749.0 L2522.0,749.0 L2536.7,749.0 L2551.3,749.0 L2566.0,749.0 L2580.6,749.0 L2595.2,749.0 L2609.9,749.0 L2624.5,749.0 L2639.2,749.0 L2653.8,749.0 L2668.4,749.0 L2683.1,749.0 L2697.7,749.0 L2712.4,749.0 L2727.0,749.0 L2741.6,749.0 L2756.3,749.0 L2770.9,749.0 L2785.6,749.0 L2800.2,749.0 L2814.8,749.0 L2829.5,749.0 L2844.1,749.0 L2858.8,749.0 L2873.4,749.0 L2873.4,749.0 L2858.8,749.0 L2844.1,749.0 L2829.5,749.0 L2814.8,749.0 L2800.2,749.0 L2785.6,749.0 L2770.9,749.0 L2756.3,749.0 L2741.6,749.0 L2727.0,749.0 L2712.4,749.0 L2697.7,749.0 L2683.1,749.0 L2668.4,749.0 L2653.8,749.0 L2639.2,749.0 L2624.5,749.0 L2609.9,749.0 L2595.2,749.0 L2580.6,749.0 L2566.0,749.0 L2551.3,749.0 L2536.7,749.0 L2522.0,749.0 L2507.4,749.0 L2492.8,749.0 L2478.1,749.0 L2463.5,749.0 L2448.8,749.0 L2434.2,749.0 L2419.6,749.0 L2404.9,749.0 L2390.3,749.0 L2375.6,749.0 L2361.0,749.0 L2346.4,749.0 L2331.7,749.0 L2317.1,749.0 L2302.4,749.0 L2287.8,749.0 L2273.2,749.0 L2258.5,749.0 L2243.9,749.0 L2229.2,749.0 L2214.6,749.0 L2200.0,749.0 L2185.3,749.0 L2170.7,749.0 L2156.0,749.0 L2141.4,749.0 L2126.8,749.0 L2112.1,749.0 L2097.5,749.0 L2082.8,749.0 L2068.2,749.0 L2053.6,749.0 L2038.9,749.0 L2024.3,749.0 L2009.6,749.0 L1995.0,749.0 L1980.4,749.0 L1965.7,749.0 L1951.1,749.0 L1936.4,749.0 L1921.8,749.0 L1907.2,749.0 L1892.5,749.0 L1877.9,749.0 L1863.2,749.0 L1848.6,749.0 L1834.0,749.0 L1819.3,749.0 L1804.7,749.0 L1790.0,749.0 L1775.4,749.0 L1760.8,749.0 L1746.1,749.0 L1731.5,749.0 L1716.8,749.0 L1702.2,749.0 L1687.6,749.0 L1672.9,749.0 L1658.3,749.0 L1643.6,749.0 L1629.0,749.0 L1614.4,749.0 L1599.7,749.0 L1585.1,749.0 L1570.5,749.0 L1555.8,749.0 L1541.2,749.0 L1526.5,749.0 L1511.9,749.0 L1497.3,749.0 L1482.6,749.0 L1468.0,749.0 L1453.3,749.0 L1438.7,749.0 L1424.1,749.0 L1409.4,749.0 L1394.8,749.0 L1380.1,749.0 L1365.5,749.0 L1350.9,749.0 L1336.2,749.0 L1321.6,749.0 L1306.9,749.0 L1292.3,749.0 L1277.7,749.0 L1263.0,749.0 L1248.4,749.0 L1233.7,749.0 L1219.1,749.0 L1204.5,749.0 L1189.8,749.0 L1175.2,749.0 L1160.5,749.0 L1145.9,749.0 L1131.3,749.0 L1116.6,628.0 L1102.0,749.0 L1087.3,749.0 L1072.7,749.0 L1058.1,749.0 L1043.4,749.0 L1028.8,749.0 L1014.1,749.0 L999.5,749.0 L984.9,749.0 L970.2,749.0 L955.6,749.0 L940.9,749.0 L926.3,749.0 L911.7,749.0 L897.0,749.0 L882.4,749.0 L867.7,749.0 L853.1,749.0 L838.5,749.0 L823.8,749.0 L809.2,749.0 L794.5,749.0 L779.9,749.0 L765.3,749.0 L750.6,749.0 L736.0,749.0 L721.3,749.0 L706.7,749.0 L692.1,749.0 L677.4,749.0 L662.8,749.0 L648.1,749.0 L633.5,749.0 L618.9,749.0 L604.2,749.0 L589.6,749.0 L574.9,749.0 L560.3,749.0 L545.7,749.0 L531.0,749.0 L516.4,749.0 L501.7,749.0 L487.1,749.0 L472.5,749.0 L457.8,749.0 L443.2,749.0 L428.5,749.0 L413.9,749.0 L399.3,749.0 L384.6,749.0 L370.0,749.0 L355.3,749.0 L340.7,749.0 L326.1,749.0 L311.4,749.0 L296.8,749.0 L282.1,749.0 L267.5,749.0Z" fill="#65e5f3" fill-opacity="0.5" stroke="#65e5f3" stroke-opacity="0.5" stroke-width="2.78" stroke-linejoin="round"/>
<path d="M267.5,749.0 L282.1,749.0 L296.8,749.0 L311.4,749.0 L326.1,749.0 L340.7,749.0 L355.3,749.0 L370.0,749.0 L384.6,749.0 L399.3,749.0 L413.9,749.0 L428.5,749.0 L443.2,749.0 L457.8,749.0 L472.5,749.0 L487.1,749.0 L501.7,749.0 L516.4,749.0 L531.0,749.0 L545.7,749.0 L560.3,749.0 L574.9,749.0 L589.6,749.0 L604.2,749.0 L618.9,749.0 L633.5,749.0 L648.1,749.0 L662.8,749.0 L677.4,749.0 L692.1,749.0 L706.7,749.0 L721.3,749.0 L736.0,749.0 L750.6,749.0 L765.3,749.0 L779.9,749.0 L794.5,749.0 L809.2,749.0 L823.8,749.0 L838.5,749.0 L853.1,749.0 L867.7,749.0 L882.4,749.0 L897.0,749.0 L911.7,749.0 L926.3,749.0 L940.9,749.0 L955.6,749.0 L970.2,749.0 L984.9,749.0 L999.5,749.0 L1014.1,749.0 L1028.8,749.0 L1043.4,749.0 L1058.1,749.0 L1072.7,749.0 L1087.3,749.0 L1102.0,749.0 L1116.6,749.0 L1131.3,749.0 L1145.9,749.0 L1160.5,749.0 L1175.2,749.0 L1189.8,749.0 L1204.5,749.0 L1219.1,749.0 L1233.7,749.0 L1248.4,749.0 L1263.0,749.0 L1277.7,749.0 L1292.3,749.0 L1306.9,749.0 L1321.6,749.0 L1336.2,749.0 L1350.9,749.0 L1365.5,749.0 L1380.1,749.0 L1394.8,749.0 L1409.4,749.0 L1424.1,749.0 L1438.7,749.0 L1453.3,749.0 L1468.0,749.0 L1482.6,749.0 L1497.3,749.0 L1511.9,749.0 L1526.5,749.0 L1541.2,749.0 L1555.8,749.0 L1570.5,749.0 L1585.1,749.0 L1599.7,749.0 L1614.4,749.0 L1629.0,749.0 L1643.6,749.0 L1658.3,749.0 L1672.9,749.0 L1687.6,749.0 L1702.2,749.0 L1716.8,749.0 L1731.5,749.0 L1746.1,749.0 L1760.8,749.0 L1775.4,749.0 L1790.0,749.0 L1804.7,749.0 L1819.3,749.0 L1834.0,749.0 L1848.6,749.0 L1863.2,749.0 L1877.9,749.0 L1892.5,749.0 L1907.2,749.0 L1921.8,749.0 L1936.4,749.0 L1951.1,749.0 L1965.7,749.0 L1980.4,749.0 L1995.0,749.0 L2009.6,749.0 L2024.3,749.0 L2038.9,749.0 L2053.6,749.0 L2068.2,749.0 L2082.8,749.0 L2097.5,749.0 L2112.1,749.0 L2126.8,749.0 L2141.4,522.0 L2156.0,749.0 L2170.7,749.0 L2185.3,749.0 L2200.0,749.0 L2214.6,749.0 L2229.2,749.0 L2243.9,749.0 L2258.5,749.0 L2273.2,749.0 L2287.8,749.0 L2302.4,749.0 L2317.1,749.0 L2331.7,749.0 L2346.4,749.0 L2361.0,749.0 L2375.6,749.0 L2390.3,749.0 L2404.9,749.0 L2419.6,749.0 L2434.2,749.0 L2448.8,749.0 L2463.5,749.0 L2478.1,749.0 L2492.8,749.0 L2507.4,749.0 L2522.0,749.0 L2536.7,749.0 L2551.3,749.0 L2566.0,749.0 L2580.6,749.0 L2595.2,749.0 L2609.9,749.0 L2624.5,749.0 L2639.2,749.0 L2653.8,749.0 L2668.4,749.0 L2683.1,749.0 L2697.7,749.0 L2712.4,749.0 L2727.0,749.0 L2741.6,749.0 L2756.3,749.0 L2770.9,749.0 L2785.6,749.0 L2800.2,749.0 L2814.8,749.0 L2829.5,749.0 L2844.1,749.0 L2858.8,749.0 L2873.4,749.0 L2873.4,749.0 L2858.8,749.0 L2844.1,749.0 L2829.5,749.0 L2814.8,749.0 L2800.2,749.0 L2785.6,749.0 L2770.9,749.0 L2756.3,749.0 L2741.6,749.0 L2727.0,749.0 L2712.4,749.0 L2697.7,749.0 L2683.1,749.0 L2668.4,749.0 L2653.8,749.0 L2639.2,749.0 L2624.5,749.0 L2609.9,749.0 L2595.2,749.0 L2580.6,749.0 L2566.0,749.0 L2551.3,749.0 L2536.7,749.0 L2522.0,749.0 L2507.4,749.0 L2492.8,749.0 L2478.1,749.0 L2463.5,749.0 L2448.8,749.0 L2434.2,749.0 L2419.6,749.0 L2404.9,749.0 L2390.3,749.0 L2375.6,749.0 L2361.0,749.0 L2346.4,749.0 L2331.7,749.0 L2317.1,749.0 L2302.4,749.0 L2287.8,749.0 L2273.2,749.0 L2258.5,749.0 L2243.9,749.0 L2229.2,749.0 L2214.6,749.0 L2200.0,749.0 L2185.3,749.0 L2170.7,749.0 L2156.0,749.0 L2141.4,600.7 L2126.8,749.0 L2112.1,749.0 L2097.5,749.0 L2082.8,749.0 L2068.2,749.0 L2053.6,749.0 L2038.9,749.0 L2024.3,749.0 L2009.6,749.0 L1995.0,749.0 L1980.4,749.0 L1965.7,749.0 L1951.1,749.0 L1936.4,749.0 L1921.8,749.0 L1907.2,749.0 L1892.5,749.0 L1877.9,749.0 L1863.2,749.0 L1848.6,749.0 L1834.0,749.0 L1819.3,749.0 L1804.7,749.0 L1790.0,749.0 L1775.4,749.0 L1760.8,749.0 L1746.1,749.0 L1731.5,749.0 L1716.8,749.0 L1702.2,749.0 L1687.6,749.0 L1672.9,749.0 L1658.3,749.0 L1643.6,749.0 L1629.0,749.0 L1614.4,749.0 L1599.7,749.0 L1585.1,749.0 L1570.5,749.0 L1555.8,749.0 L1541.2,749.0 L1526.5,749.0 L1511.9,749.0 L1497.3,749.0 L1482.6,749.0 L1468.0,749.0 L1453.3,749.0 L1438.7,749.0 L1424.1,749.0 L1409.4,749.0 L1394.8,749.0 L1380.1,749.0 L1365.5,749.0 L1350.9,749.0 L1336.2,749.0 L1321.6,749.0 L1306.9,749.0 L1292.3,749.0 L1277.7,749.0 L1263.0,749.0 L1248.4,749.0 L1233.7,749.0 L1219.1,749.0 L1204.5,749.0 L1189.8,749.0 L1175.2,749.0 L1160.5,749.0 L1145.9,749.0 L1131.3,749.0 L1116.6,749.0 L1102.0,749.0 L1087.3,749.0 L1072.7,749.0 L1058.1,749.0 L1043.4,749.0 L1028.8,749.0 L1014.1,749.0 L999.5,749.0 L984.9,749.0 L970.2,749.0 L955.6,749.0 L940.9,749.0 L926.3,749.0 L911.7,749.0 L897.0,749.0 L882.4,749.0 L867.7,749.0 L853.1,749.0 L838.5,749.0 L823.8,749.0 L809.2,749.0 L794.5,749.0 L779.9,749.0 L765.3,749.0 L750.6,749.0 L736.0,749.0 L721.3,749.0 L706.7,749.0 L692.1,749.0 L677.4,749.0 L662.8,749.0 L648.1,749.0 L633.5,749.0 L618.9,749.0 L604.2,749.0 L589.6,749.0 L574.9,749.0 L560.3,749.0 L545.7,749.0 L531.0,749.0 L516.4,749.0 L501.7,749.0 L487.1,749.0 L472.5,749.0 L457.8,749.0 L443.2,749.0 L428.5,749.0 L413.9,749.0 L399.3,749.0 L384.6,749.0 L370.0,749.0 L355.3,749.0 L340.7,749.0 L326.1,749.0 L311.4,749.0 L296.8,749.0 L282.1,749.0 L267.5,749.0Z" fill="#e6e135" fill-opacity="0.5" stroke="#e6e135" stroke-opacity="0.5" stroke-width="2.78" stroke-linejoin="round"/>
<path d="M267.5,474.9 L282.1,490.2 L296.8,441.8 L311.4,483.2 L326.1,443.5 L340.7,496.1 L355.3,400.5 L370.0,330.9 L384.6,408.3 L399.3,345.6 L413.9,398.5 L428.5,405.7 L443.2,426.5 L457.8,299.4 L472.5,403.0 L487.1,430.0 L501.7,459.5 L516.4,413.6 L531.0,480.3 L545.7,504.8 L560.3,472.1 L574.9,527.3 L589.6,468.4 L604.2,463.1 L618.9,496.8 L633.5,484.0 L648.1,506.1 L662.8,505.6 L677.4,455.9 L692.1,432.3 L706.7,303.0 L721.3,398.9 L736.0,301.9 L750.6,306.4 L765.3,247.7 L779.9,388.0 L794.5,454.3 L809.2,341.5 L823.8,214.5 L838.5,295.0 L853.1,336.1 L867.7,359.7 L882.4,345.1 L897.0,329.9 L911.7,474.3 L926.3,417.7 L940.9,212.9 L955.6,305.6 L970.2,367.9 L984.9,408.6 L999.5,310.2 L1014.1,421.3 L1028.8,459.6 L1043.4,445.5 L1058.1,450.0 L1072.7,293.2 L1087.3,389.2 L1102.0,481.4 L1116.6,280.2 L1131.3,401.8 L1145.9,385.0 L1160.5,388.7 L1175.2,405.5 L1189.8,435.1 L1204.5,439.4 L1219.1,361.5 L1233.7,417.2 L1248.4,470.2 L1263.0,440.2 L1277.7,322.8 L1292.3,485.9 L1306.9,477.1 L1321.6,339.2 L1336.2,336.1 L1350.9,439.0 L1365.5,260.1 L1380.1,357.9 L1394.8,423.2 L1409.4,266.8 L1424.1,416.8 L1438.7,420.8 L1453.3,336.4 L1468.0,348.1 L1482.6,344.4 L1497.3,235.2 L1511.9,285.0 L1526.5,337.0 L1541.2,421.8 L1555.8,177.3 L1570.5,270.6 L1585.1,181.5 L1599.7,347.6 L1614.4,354.0 L1629.0,341.9 L1643.6,381.8 L1658.3,280.2 L1672.9,354.7 L1687.6,408.3 L1702.2,379.8 L1716.8,458.6 L1731.5,429.2 L1746.1,386.4 L1760.8,346.8 L1775.4,306.5 L1790.0,347.6 L1804.7,375.9 L1819.3,280.9 L1834.0,280.7 L1848.6,358.1 L1863.2,341.8 L1877.9,438.9 L1892.5,417.3 L1907.2,385.8 L1921.8,390.3 L1936.4,221.1 L1951.1,257.7 L1965.7,392.7 L1980.4,426.6 L1995.0,431.0 L2009.6,505.6 L2024.3,502.8 L2038.9,449.0 L2053.6,437.1 L2068.2,448.0 L2082.8,511.0 L2097.5,465.7 L2112.1,442.9 L2126.8,446.0 L2141.4,302.2 L2156.0,443.5 L2170.7,383.8 L2185.3,407.5 L2200.0,421.1 L2214.6,335.8 L2229.2,244.0 L2243.9,363.0 L2258.5,358.6 L2273.2,309.4 L2287.8,366.0 L2302.4,346.6 L2317.1,326.0 L2331.7,372.0 L2346.4,269.5 L2361.0,328.2 L2375.6,424.0 L2390.3,393.9 L2404.9,446.2 L2419.6,361.8 L2434.2,374.8 L2448.8,422.5 L2463.5,429.1 L2478.1,358.5 L2492.8,382.6 L2507.4,398.7 L2522.0,414.7 L2536.7,383.6 L2551.3,424.6 L2566.0,413.4 L2580.6,388.2 L2595.2,263.5 L2609.9,236.5 L2624.5,263.4 L2639.2,357.8 L2653.8,276.6 L2668.4,343.6 L2683.1,370.1 L2697.7,402.4 L2712.4,395.8 L2727.0,437.0 L2741.6,449.2 L2756.3,304.8 L2770.9,444.6 L2785.6,488.0 L2800.2,529.4 L2814.8,504.6 L2829.5,366.2 L2844.1,464.4 L2858.8,440.9 L2873.4,427.4" fill="none" stroke="#000000" stroke-width="4.17" stroke-linejoin="round" stroke-linecap="round"/>
</g>
<text x="127.6" y="757.9" font-size="22.22" text-anchor="end">0</text>
<text x="127.6" y="620.3" font-size="22.22" text-anchor="end">2000</text>
<text x="127.6" y="482.8" font-size="22.22" text-anchor="end">4000</text>
<text x="127.6" y="345.2" font-size="22.22" text-anchor="end">6000</text>
<text x="127.6" y="207.7" font-size="22.22" text-anchor="end">8000</text>
<text x="1570.0" y="120.1" font-size="44.44" text-anchor="middle">geo_a</text>
<text transform="translate(50.7,495.7) rotate(-90)" font-size="41.67" text-anchor="middle">y</text>
<rect x="413.5" y="959.3" width="77.8" height="27.2" fill="#2a2eec" fill-opacity="0.5" stroke="#2a2eec" stroke-opacity="0.5" stroke-width="2.78"/>
<text x="522.4" y="987.3" font-size="38.89">94% HDI (x1)</text>
<rect x="413.5" y="1017.3" width="77.8" height="27.2" fill="#fa7c17" fill-opacity="0.5" stroke="#fa7c17" stroke-opacity="0.5" stroke-width="2.78"/>
<text x="522.4" y="1045.3" font-size="38.89">94% HDI (x2)</text>
<rect x="860.9" y="959.3" width="77.8" height="27.2" fill="#328c06" fill-opacity="0.5" stroke="#328c06" stroke-opacity="0.5" stroke-width="2.78"/>
<text x="969.8" y="987.3" font-size="38.89">94% HDI intercept</text>
<rect x="860.9" y="1017.3" width="77.8" height="27.2" fill="#c10c90" fill-opacity="0.5" stroke="#c10c90" stroke-opacity="0.5" stroke-width="2.78"/>
<text x="969.8" y="1045.3" font-size="38.89">94% HDI Fourier</text>
<rect x="1403.9" y="959.3" width="77.8" height="27.2" fill="#933708" fill-opacity="0.5" stroke="#933708" stroke-opacity="0.5" stroke-width="2.78"/>
<text x="1512.8" y="987.3" font-size="38.89">94% HDI Trend</text>
<rect x="1403.9" y="1017.3" width="77.8" height="27.2" fill="#65e5f3" fill-opacity="0.5" stroke="#65e5f3" stroke-opacity="0.5" stroke-width="2.78"/>
<text x="1512.8" y="1045.3" font-size="38.89">94% HDI control (event_1)</text>
<rect x="2104.2" y="959.3" width="77.8" height="27.2" fill="#e6e135" fill-opacity="0.5" stroke="#e6e135" stroke-opacity="0.5" stroke-width="2.78"/>
<text x="2213.1" y="987.3" font-size="38.89">94% HDI control (event_2)</text>
<path d="M2104.2,1030.9H2182.0" stroke="#000" stroke-width="4.17" stroke-linecap="round"/>
<text x="2213.1" y="1045.3" font-size="38.89">y</text>
<rect x="137.0" y="1138.9" width="2865.9" height="713.9" fill="#eeeeee"/>
<path d="M455.7,1138.9V1852.8M840.5,1138.9V1852.8M1219.1,1138.9V1852.8M1603.9,1138.9V1852.8M1984.5,1138.9V1852.8M2369.4,1138.9V1852.8M2747.9,1138.9V1852.8M137.0,1751.9H3002.9M137.0,1614.3H3002.9M137.0,1476.8H3002.9M137.0,1339.2H3002.9M137.0,1201.7H3002.9" stroke="#ffffff" stroke-width="2.22" fill="none"/>
<g clip-path="url(#clip1)">
<path d="M267.5,1659.3 L282.1,1682.0 L296.8,1644.4 L311.4,1685.1 L326.1,1625.1 L340.7,1681.5 L355.3,1616.9 L370.0,1612.9 L384.6,1626.7 L399.3,1548.3 L413.9,1566.8 L428.5,1584.9 L443.2,1583.7 L457.8,1585.4 L472.5,1599.9 L487.1,1545.8 L501.7,1576.9 L516.4,1542.8 L531.0,1580.6 L545.7,1612.7 L560.3,1600.0 L574.9,1642.1 L589.6,1616.9 L604.2,1651.9 L618.9,1681.9 L633.5,1653.0 L648.1,1692.6 L662.8,1720.4 L677.4,1691.5 L692.1,1667.0 L706.7,1624.8 L721.3,1662.3 L736.0,1551.0 L750.6,1579.9 L765.3,1609.2 L779.9,1666.4 L794.5,1707.2 L809.2,1682.6 L823.8,1555.3 L838.5,1534.7 L853.1,1558.3 L867.7,1606.3 L882.4,1545.1 L897.0,1571.0 L911.7,1651.7 L926.3,1607.7 L940.9,1544.0 L955.6,1532.6 L970.2,1569.2 L984.9,1581.2 L999.5,1610.9 L1014.1,1670.0 L1028.8,1697.9 L1043.4,1703.5 L1058.1,1653.8 L1072.7,1618.2 L1087.3,1617.7 L1102.0,1685.8 L1116.6,1639.2 L1131.3,1603.6 L1145.9,1590.5 L1160.5,1612.6 L1175.2,1602.6 L1189.8,1612.3 L1204.5,1632.7 L1219.1,1546.4 L1233.7,1594.5 L1248.4,1637.4 L1263.0,1603.4 L1277.7,1599.6 L1292.3,1645.0 L1306.9,1648.4 L1321.6,1626.4 L1336.2,1610.5 L1350.9,1647.7 L1365.5,1551.3 L1380.1,1582.8 L1394.8,1628.5 L1409.4,1597.9 L1424.1,1672.9 L1438.7,1654.9 L1453.3,1697.9 L1468.0,1709.8 L1482.6,1676.5 L1497.3,1618.7 L1511.9,1596.0 L1526.5,1627.4 L1541.2,1684.4 L1555.8,1553.0 L1570.5,1581.1 L1585.1,1587.3 L1599.7,1630.5 L1614.4,1634.3 L1629.0,1609.7 L1643.6,1593.7 L1658.3,1610.8 L1672.9,1613.1 L1687.6,1637.0 L1702.2,1615.6 L1716.8,1681.7 L1731.5,1647.4 L1746.1,1606.2 L1760.8,1644.4 L1775.4,1675.2 L1790.0,1611.0 L1804.7,1607.3 L1819.3,1597.2 L1834.0,1541.5 L1848.6,1586.5 L1863.2,1587.1 L1877.9,1657.3 L1892.5,1641.3 L1907.2,1611.6 L1921.8,1599.9 L1936.4,1545.3 L1951.1,1582.4 L1965.7,1621.3 L1980.4,1629.7 L1995.0,1624.0 L2009.6,1665.8 L2024.3,1692.2 L2038.9,1621.5 L2053.6,1603.8 L2068.2,1590.4 L2082.8,1654.9 L2097.5,1643.8 L2112.1,1607.4 L2126.8,1637.4 L2141.4,1695.8 L2156.0,1646.9 L2170.7,1635.2 L2185.3,1658.9 L2200.0,1646.0 L2214.6,1608.1 L2229.2,1646.6 L2243.9,1693.0 L2258.5,1649.0 L2273.2,1613.3 L2287.8,1661.7 L2302.4,1643.3 L2317.1,1616.8 L2331.7,1643.2 L2346.4,1685.1 L2361.0,1632.2 L2375.6,1656.8 L2390.3,1661.9 L2404.9,1680.8 L2419.6,1637.2 L2434.2,1602.4 L2448.8,1652.9 L2463.5,1665.4 L2478.1,1552.4 L2492.8,1617.0 L2507.4,1614.7 L2522.0,1645.7 L2536.7,1622.5 L2551.3,1631.1 L2566.0,1673.7 L2580.6,1632.4 L2595.2,1654.4 L2609.9,1608.5 L2624.5,1547.7 L2639.2,1601.4 L2653.8,1634.6 L2668.4,1624.0 L2683.1,1604.0 L2697.7,1645.3 L2712.4,1665.3 L2727.0,1694.7 L2741.6,1673.0 L2756.3,1626.4 L2770.9,1635.6 L2785.6,1688.1 L2800.2,1705.8 L2814.8,1722.9 L2829.5,1692.1 L2844.1,1678.4 L2858.8,1646.0 L2873.4,1604.1 L2873.4,1637.8 L2858.8,1673.6 L2844.1,1698.8 L2829.5,1708.9 L2814.8,1733.8 L2800.2,1721.9 L2785.6,1710.6 L2770.9,1665.9 L2756.3,1657.4 L2741.6,1695.0 L2727.0,1714.5 L2712.4,1691.8 L2697.7,1676.8 L2683.1,1638.6 L2668.4,1657.2 L2653.8,1670.2 L2639.2,1641.5 L2624.5,1580.9 L2609.9,1642.0 L2595.2,1681.8 L2580.6,1662.8 L2566.0,1699.3 L2551.3,1662.9 L2536.7,1655.1 L2522.0,1677.2 L2507.4,1649.9 L2492.8,1655.3 L2478.1,1585.3 L2463.5,1691.2 L2448.8,1682.5 L2434.2,1636.3 L2419.6,1666.5 L2404.9,1702.4 L2390.3,1687.4 L2375.6,1683.6 L2361.0,1662.4 L2346.4,1708.1 L2331.7,1673.3 L2317.1,1649.5 L2302.4,1672.2 L2287.8,1689.1 L2273.2,1646.1 L2258.5,1676.2 L2243.9,1715.0 L2229.2,1676.7 L2214.6,1641.6 L2200.0,1674.3 L2185.3,1685.5 L2170.7,1665.2 L2156.0,1674.5 L2141.4,1718.7 L2126.8,1669.0 L2112.1,1641.1 L2097.5,1673.5 L2082.8,1687.0 L2068.2,1625.7 L2053.6,1637.8 L2038.9,1653.2 L2024.3,1712.7 L2009.6,1693.3 L1995.0,1657.1 L1980.4,1663.6 L1965.7,1659.8 L1951.1,1622.0 L1936.4,1578.8 L1921.8,1634.8 L1907.2,1645.1 L1892.5,1671.8 L1877.9,1692.8 L1863.2,1625.2 L1848.6,1627.5 L1834.0,1575.2 L1819.3,1632.4 L1804.7,1641.4 L1790.0,1644.1 L1775.4,1699.8 L1760.8,1674.9 L1746.1,1639.8 L1731.5,1675.3 L1716.8,1707.7 L1702.2,1649.1 L1687.6,1669.2 L1672.9,1647.8 L1658.3,1646.1 L1643.6,1629.0 L1629.0,1643.7 L1614.4,1666.7 L1599.7,1666.7 L1585.1,1624.8 L1570.5,1618.6 L1555.8,1585.8 L1541.2,1709.9 L1526.5,1660.7 L1511.9,1630.5 L1497.3,1650.7 L1482.6,1697.3 L1468.0,1724.1 L1453.3,1717.4 L1438.7,1682.1 L1424.1,1703.0 L1409.4,1633.4 L1394.8,1665.9 L1380.1,1621.0 L1365.5,1584.3 L1350.9,1678.0 L1336.2,1644.2 L1321.6,1658.1 L1306.9,1677.7 L1292.3,1677.4 L1277.7,1635.0 L1263.0,1638.3 L1248.4,1673.7 L1233.7,1634.5 L1219.1,1579.5 L1204.5,1665.6 L1189.8,1647.3 L1175.2,1637.9 L1160.5,1648.0 L1145.9,1625.7 L1131.3,1637.5 L1116.6,1668.3 L1102.0,1710.6 L1087.3,1650.6 L1072.7,1650.3 L1058.1,1679.7 L1043.4,1719.3 L1028.8,1719.1 L1014.1,1701.7 L999.5,1649.8 L984.9,1621.3 L970.2,1611.7 L955.6,1568.3 L940.9,1577.4 L926.3,1642.5 L911.7,1692.7 L897.0,1610.1 L882.4,1579.2 L867.7,1649.7 L853.1,1596.7 L838.5,1569.5 L823.8,1588.1 L809.2,1702.4 L794.5,1727.7 L779.9,1698.0 L765.3,1647.2 L750.6,1617.5 L736.0,1583.8 L721.3,1688.4 L706.7,1656.0 L692.1,1690.1 L677.4,1708.5 L662.8,1733.2 L648.1,1712.1 L633.5,1679.5 L618.9,1705.0 L604.2,1681.4 L589.6,1650.4 L574.9,1675.4 L560.3,1636.3 L545.7,1652.4 L531.0,1622.1 L516.4,1577.3 L501.7,1616.3 L487.1,1579.6 L472.5,1637.1 L457.8,1622.6 L443.2,1621.1 L428.5,1623.7 L413.9,1603.9 L399.3,1581.5 L384.6,1659.4 L370.0,1646.4 L355.3,1649.2 L340.7,1704.5 L326.1,1656.3 L311.4,1705.9 L296.8,1672.3 L282.1,1701.7 L267.5,1685.0Z" fill="#2a2eec" fill-opacity="0.5" stroke="#2a2eec" stroke-opacity="0.5" stroke-width="2.78" stroke-linejoin="round"/>
<path d="M267.5,1751.9 L282.1,1751.9 L296.8,1751.9 L311.4,1751.9 L326.1,1751.9 L340.7,1751.9 L355.3,1751.9 L370.0,1634.6 L384.6,1716.1 L399.3,1744.7 L413.9,1750.5 L428.5,1751.7 L443.2,1751.9 L457.8,1629.5 L472.5,1712.8 L487.1,1744.0 L501.7,1750.4 L516.4,1751.6 L531.0,1751.9 L545.7,1751.9 L560.3,1751.9 L574.9,1751.9 L589.6,1751.9 L604.2,1751.9 L618.9,1751.9 L633.5,1751.9 L648.1,1751.9 L662.8,1751.9 L677.4,1751.9 L692.1,1751.9 L706.7,1638.4 L721.3,1719.2 L736.0,1745.4 L750.6,1750.6 L765.3,1635.9 L779.9,1717.1 L794.5,1744.9 L809.2,1627.5 L823.8,1622.5 L838.5,1709.0 L853.1,1743.2 L867.7,1750.2 L882.4,1751.6 L897.0,1751.9 L911.7,1751.9 L926.3,1751.9 L940.9,1628.8 L955.6,1712.4 L970.2,1743.9 L984.9,1750.4 L999.5,1633.3 L1014.1,1715.1 L1028.8,1744.5 L1043.4,1750.5 L1058.1,1751.6 L1072.7,1627.5 L1087.3,1711.6 L1102.0,1743.8 L1116.6,1750.3 L1131.3,1751.6 L1145.9,1751.9 L1160.5,1751.9 L1175.2,1751.9 L1189.8,1751.9 L1204.5,1751.9 L1219.1,1751.9 L1233.7,1751.9 L1248.4,1751.9 L1263.0,1751.9 L1277.7,1629.9 L1292.3,1713.0 L1306.9,1744.1 L1321.6,1633.8 L1336.2,1625.6 L1350.9,1710.8 L1365.5,1630.2 L1380.1,1713.4 L1394.8,1744.2 L1409.4,1627.3 L1424.1,1711.5 L1438.7,1743.8 L1453.3,1629.6 L1468.0,1620.0 L1482.6,1707.4 L1497.3,1635.8 L1511.9,1717.3 L1526.5,1745.0 L1541.2,1750.6 L1555.8,1635.1 L1570.5,1716.4 L1585.1,1630.1 L1599.7,1713.2 L1614.4,1744.1 L1629.0,1750.4 L1643.6,1751.6 L1658.3,1627.5 L1672.9,1711.6 L1687.6,1743.8 L1702.2,1750.3 L1716.8,1751.6 L1731.5,1751.9 L1746.1,1751.9 L1760.8,1631.3 L1775.4,1620.8 L1790.0,1707.9 L1804.7,1743.0 L1819.3,1637.7 L1834.0,1718.7 L1848.6,1745.3 L1863.2,1750.6 L1877.9,1751.7 L1892.5,1751.9 L1907.2,1751.9 L1921.8,1751.9 L1936.4,1633.8 L1951.1,1623.9 L1965.7,1709.8 L1980.4,1743.4 L1995.0,1750.3 L2009.6,1751.6 L2024.3,1751.9 L2038.9,1751.9 L2053.6,1751.9 L2068.2,1751.9 L2082.8,1751.9 L2097.5,1751.9 L2112.1,1751.9 L2126.8,1751.9 L2141.4,1751.9 L2156.0,1751.9 L2170.7,1751.9 L2185.3,1751.9 L2200.0,1751.9 L2214.6,1751.9 L2229.2,1636.6 L2243.9,1717.6 L2258.5,1745.0 L2273.2,1750.6 L2287.8,1751.7 L2302.4,1751.9 L2317.1,1751.9 L2331.7,1751.9 L2346.4,1629.8 L2361.0,1712.9 L2375.6,1744.1 L2390.3,1750.4 L2404.9,1751.6 L2419.6,1751.9 L2434.2,1751.9 L2448.8,1751.9 L2463.5,1751.9 L2478.1,1751.9 L2492.8,1751.9 L2507.4,1751.9 L2522.0,1751.9 L2536.7,1751.9 L2551.3,1751.9 L2566.0,1751.9 L2580.6,1751.9 L2595.2,1631.5 L2609.9,1620.5 L2624.5,1707.7 L2639.2,1743.0 L2653.8,1635.7 L2668.4,1716.9 L2683.1,1744.9 L2697.7,1750.6 L2712.4,1751.7 L2727.0,1751.9 L2741.6,1751.9 L2756.3,1633.0 L2770.9,1714.9 L2785.6,1744.5 L2800.2,1750.5 L2814.8,1751.6 L2829.5,1635.5 L2844.1,1716.7 L2858.8,1744.8 L2873.4,1750.5 L2873.4,1751.8 L2858.8,1750.1 L2844.1,1735.1 L2829.5,1649.6 L2814.8,1751.9 L2800.2,1751.8 L2785.6,1750.0 L2770.9,1734.2 L2756.3,1647.1 L2741.6,1751.9 L2727.0,1751.9 L2712.4,1751.9 L2697.7,1751.8 L2683.1,1750.2 L2668.4,1735.3 L2653.8,1650.2 L2639.2,1749.9 L2624.5,1732.0 L2609.9,1644.0 L2595.2,1646.1 L2580.6,1751.9 L2566.0,1751.9 L2551.3,1751.9 L2536.7,1751.9 L2522.0,1751.9 L2507.4,1751.9 L2492.8,1751.9 L2478.1,1751.9 L2463.5,1751.9 L2448.8,1751.9 L2434.2,1751.9 L2419.6,1751.9 L2404.9,1751.9 L2390.3,1751.8 L2375.6,1749.9 L2361.0,1733.2 L2346.4,1645.1 L2331.7,1751.9 L2317.1,1751.9 L2302.4,1751.9 L2287.8,1751.9 L2273.2,1751.8 L2258.5,1750.2 L2243.9,1735.5 L2229.2,1651.0 L2214.6,1751.9 L2200.0,1751.9 L2185.3,1751.9 L2170.7,1751.9 L2156.0,1751.9 L2141.4,1751.9 L2126.8,1751.9 L2112.1,1751.9 L2097.5,1751.9 L2082.8,1751.9 L2068.2,1751.9 L2053.6,1751.9 L2038.9,1751.9 L2024.3,1751.9 L2009.6,1751.9 L1995.0,1751.8 L1980.4,1750.0 L1965.7,1733.0 L1951.1,1645.2 L1936.4,1647.9 L1921.8,1751.9 L1907.2,1751.9 L1892.5,1751.9 L1877.9,1751.9 L1863.2,1751.8 L1848.6,1750.2 L1834.0,1736.1 L1819.3,1653.2 L1804.7,1749.9 L1790.0,1732.1 L1775.4,1644.1 L1760.8,1645.9 L1746.1,1751.9 L1731.5,1751.9 L1716.8,1751.9 L1702.2,1751.8 L1687.6,1749.9 L1672.9,1732.5 L1658.3,1644.0 L1643.6,1751.9 L1629.0,1751.8 L1614.4,1750.0 L1599.7,1733.8 L1585.1,1646.2 L1570.5,1734.9 L1555.8,1649.2 L1541.2,1751.8 L1526.5,1750.2 L1511.9,1735.9 L1497.3,1652.0 L1482.6,1731.9 L1468.0,1643.9 L1453.3,1645.2 L1438.7,1749.9 L1424.1,1732.6 L1409.4,1644.1 L1394.8,1750.0 L1380.1,1733.9 L1365.5,1646.6 L1350.9,1733.5 L1336.2,1646.1 L1321.6,1648.2 L1306.9,1749.9 L1292.3,1733.2 L1277.7,1645.1 L1263.0,1751.9 L1248.4,1751.9 L1233.7,1751.9 L1219.1,1751.9 L1204.5,1751.9 L1189.8,1751.9 L1175.2,1751.9 L1160.5,1751.9 L1145.9,1751.9 L1131.3,1751.9 L1116.6,1751.8 L1102.0,1749.9 L1087.3,1732.5 L1072.7,1644.0 L1058.1,1751.9 L1043.4,1751.8 L1028.8,1750.0 L1014.1,1734.3 L999.5,1647.4 L984.9,1751.8 L970.2,1749.9 L955.6,1732.9 L940.9,1644.6 L926.3,1751.9 L911.7,1751.9 L897.0,1751.9 L882.4,1751.9 L867.7,1751.8 L853.1,1750.0 L838.5,1732.8 L823.8,1644.9 L809.2,1644.2 L794.5,1750.1 L779.9,1735.3 L765.3,1650.2 L750.6,1751.8 L736.0,1750.3 L721.3,1736.3 L706.7,1653.9 L692.1,1751.9 L677.4,1751.9 L662.8,1751.9 L648.1,1751.9 L633.5,1751.9 L618.9,1751.9 L604.2,1751.9 L589.6,1751.9 L574.9,1751.9 L560.3,1751.9 L545.7,1751.9 L531.0,1751.9 L516.4,1751.9 L501.7,1751.8 L487.1,1749.9 L472.5,1733.1 L457.8,1644.9 L443.2,1751.9 L428.5,1751.9 L413.9,1751.8 L399.3,1750.1 L384.6,1734.7 L370.0,1648.6 L355.3,1751.9 L340.7,1751.9 L326.1,1751.9 L311.4,1751.9 L296.8,1751.9 L282.1,1751.9 L267.5,1751.9Z" fill="#fa7c17" fill-opacity="0.5" stroke="#fa7c17" stroke-opacity="0.5" stroke-width="2.78" stroke-linejoin="round"/>
<path d="M267.5,1529.5 L282.1,1529.5 L296.8,1529.5 L311.4,1529.5 L326.1,1529.5 L340.7,1529.5 L355.3,1529.5 L370.0,1529.5 L384.6,1529.5 L399.3,1529.5 L413.9,1529.5 L428.5,1529.5 L443.2,1529.5 L457.8,1529.5 L472.5,1529.5 L487.1,1529.5 L501.7,1529.5 L516.4,1529.5 L531.0,1529.5 L545.7,1529.5 L560.3,1529.5 L574.9,1529.5 L589.6,1529.5 L604.2,1529.5 L618.9,1529.5 L633.5,1529.5 L648.1,1529.5 L662.8,1529.5 L677.4,1529.5 L692.1,1529.5 L706.7,1529.5 L721.3,1529.5 L736.0,1529.5 L750.6,1529.5 L765.3,1529.5 L779.9,1529.5 L794.5,1529.5 L809.2,1529.5 L823.8,1529.5 L838.5,1529.5 L853.1,1529.5 L867.7,1529.5 L882.4,1529.5 L897.0,1529.5 L911.7,1529.5 L926.3,1529.5 L940.9,1529.5 L955.6,1529.5 L970.2,1529.5 L984.9,1529.5 L999.5,1529.5 L1014.1,1529.5 L1028.8,1529.5 L1043.4,1529.5 L1058.1,1529.5 L1072.7,1529.5 L1087.3,1529.5 L1102.0,1529.5 L1116.6,1529.5 L1131.3,1529.5 L1145.9,1529.5 L1160.5,1529.5 L1175.2,1529.5 L1189.8,1529.5 L1204.5,1529.5 L1219.1,1529.5 L1233.7,1529.5 L1248.4,1529.5 L1263.0,1529.5 L1277.7,1529.5 L1292.3,1529.5 L1306.9,1529.5 L1321.6,1529.5 L1336.2,1529.5 L1350.9,1529.5 L1365.5,1529.5 L1380.1,1529.5 L1394.8,1529.5 L1409.4,1529.5 L1424.1,1529.5 L1438.7,1529.5 L1453.3,1529.5 L1468.0,1529.5 L1482.6,1529.5 L1497.3,1529.5 L1511.9,1529.5 L1526.5,1529.5 L1541.2,1529.5 L1555.8,1529.5 L1570.5,1529.5 L1585.1,1529.5 L1599.7,1529.5 L1614.4,1529.5 L1629.0,1529.5 L1643.6,1529.5 L1658.3,1529.5 L1672.9,1529.5 L1687.6,1529.5 L1702.2,1529.5 L1716.8,1529.5 L1731.5,1529.5 L1746.1,1529.5 L1760.8,1529.5 L1775.4,1529.5 L1790.0,1529.5 L1804.7,1529.5 L1819.3,1529.5 L1834.0,1529.5 L1848.6,1529.5 L1863.2,1529.5 L1877.9,1529.5 L1892.5,1529.5 L1907.2,1529.5 L1921.8,1529.5 L1936.4,1529.5 L1951.1,1529.5 L1965.7,1529.5 L1980.4,1529.5 L1995.0,1529.5 L2009.6,1529.5 L2024.3,1529.5 L2038.9,1529.5 L2053.6,1529.5 L2068.2,1529.5 L2082.8,1529.5 L2097.5,1529.5 L2112.1,1529.5 L2126.8,1529.5 L2141.4,1529.5 L2156.0,1529.5 L2170.7,1529.5 L2185.3,1529.5 L2200.0,1529.5 L2214.6,1529.5 L2229.2,1529.5 L2243.9,1529.5 L2258.5,1529.5 L2273.2,1529.5 L2287.8,1529.5 L2302.4,1529.5 L2317.1,1529.5 L2331.7,1529.5 L2346.4,1529.5 L2361.0,1529.5 L2375.6,1529.5 L2390.3,1529.5 L2404.9,1529.5 L2419.6,1529.5 L2434.2,1529.5 L2448.8,1529.5 L2463.5,1529.5 L2478.1,1529.5 L2492.8,1529.5 L2507.4,1529.5 L2522.0,1529.5 L2536.7,1529.5 L2551.3,1529.5 L2566.0,1529.5 L2580.6,1529.5 L2595.2,1529.5 L2609.9,1529.5 L2624.5,1529.5 L2639.2,1529.5 L2653.8,1529.5 L2668.4,1529.5 L2683.1,1529.5 L2697.7,1529.5 L2712.4,1529.5 L2727.0,1529.5 L2741.6,1529.5 L2756.3,1529.5 L2770.9,1529.5 L2785.6,1529.5 L2800.2,1529.5 L2814.8,1529.5 L2829.5,1529.5 L2844.1,1529.5 L2858.8,1529.5 L2873.4,1529.5 L2873.4,1565.4 L2858.8,1565.4 L2844.1,1565.4 L2829.5,1565.4 L2814.8,1565.4 L2800.2,1565.4 L2785.6,1565.4 L2770.9,1565.4 L2756.3,1565.4 L2741.6,1565.4 L2727.0,1565.4 L2712.4,1565.4 L2697.7,1565.4 L2683.1,1565.4 L2668.4,1565.4 L2653.8,1565.4 L2639.2,1565.4 L2624.5,1565.4 L2609.9,1565.4 L2595.2,1565.4 L2580.6,1565.4 L2566.0,1565.4 L2551.3,1565.4 L2536.7,1565.4 L2522.0,1565.4 L2507.4,1565.4 L2492.8,1565.4 L2478.1,1565.4 L2463.5,1565.4 L2448.8,1565.4 L2434.2,1565.4 L2419.6,1565.4 L2404.9,1565.4 L2390.3,1565.4 L2375.6,1565.4 L2361.0,1565.4 L2346.4,1565.4 L2331.7,1565.4 L2317.1,1565.4 L2302.4,1565.4 L2287.8,1565.4 L2273.2,1565.4 L2258.5,1565.4 L2243.9,1565.4 L2229.2,1565.4 L2214.6,1565.4 L2200.0,1565.4 L2185.3,1565.4 L2170.7,1565.4 L2156.0,1565.4 L2141.4,1565.4 L2126.8,1565.4 L2112.1,1565.4 L2097.5,1565.4 L2082.8,1565.4 L2068.2,1565.4 L2053.6,1565.4 L2038.9,1565.4 L2024.3,1565.4 L2009.6,1565.4 L1995.0,1565.4 L1980.4,1565.4 L1965.7,1565.4 L1951.1,1565.4 L1936.4,1565.4 L1921.8,1565.4 L1907.2,1565.4 L1892.5,1565.4 L1877.9,1565.4 L1863.2,1565.4 L1848.6,1565.4 L1834.0,1565.4 L1819.3,1565.4 L1804.7,1565.4 L1790.0,1565.4 L1775.4,1565.4 L1760.8,1565.4 L1746.1,1565.4 L1731.5,1565.4 L1716.8,1565.4 L1702.2,1565.4 L1687.6,1565.4 L1672.9,1565.4 L1658.3,1565.4 L1643.6,1565.4 L1629.0,1565.4 L1614.4,1565.4 L1599.7,1565.4 L1585.1,1565.4 L1570.5,1565.4 L1555.8,1565.4 L1541.2,1565.4 L1526.5,1565.4 L1511.9,1565.4 L1497.3,1565.4 L1482.6,1565.4 L1468.0,1565.4 L1453.3,1565.4 L1438.7,1565.4 L1424.1,1565.4 L1409.4,1565.4 L1394.8,1565.4 L1380.1,1565.4 L1365.5,1565.4 L1350.9,1565.4 L1336.2,1565.4 L1321.6,1565.4 L1306.9,1565.4 L1292.3,1565.4 L1277.7,1565.4 L1263.0,1565.4 L1248.4,1565.4 L1233.7,1565.4 L1219.1,1565.4 L1204.5,1565.4 L1189.8,1565.4 L1175.2,1565.4 L1160.5,1565.4 L1145.9,1565.4 L1131.3,1565.4 L1116.6,1565.4 L1102.0,1565.4 L1087.3,1565.4 L1072.7,1565.4 L1058.1,1565.4 L1043.4,1565.4 L1028.8,1565.4 L1014.1,1565.4 L999.5,1565.4 L984.9,1565.4 L970.2,1565.4 L955.6,1565.4 L940.9,1565.4 L926.3,1565.4 L911.7,1565.4 L897.0,1565.4 L882.4,1565.4 L867.7,1565.4 L853.1,1565.4 L838.5,1565.4 L823.8,1565.4 L809.2,1565.4 L794.5,1565.4 L779.9,1565.4 L765.3,1565.4 L750.6,1565.4 L736.0,1565.4 L721.3,1565.4 L706.7,1565.4 L692.1,1565.4 L677.4,1565.4 L662.8,1565.4 L648.1,1565.4 L633.5,1565.4 L618.9,1565.4 L604.2,1565.4 L589.6,1565.4 L574.9,1565.4 L560.3,1565.4 L545.7,1565.4 L531.0,1565.4 L516.4,1565.4 L501.7,1565.4 L487.1,1565.4 L472.5,1565.4 L457.8,1565.4 L443.2,1565.4 L428.5,1565.4 L413.9,1565.4 L399.3,1565.4 L384.6,1565.4 L370.0,1565.4 L355.3,1565.4 L340.7,1565.4 L326.1,1565.4 L311.4,1565.4 L296.8,1565.4 L282.1,1565.4 L267.5,1565.4Z" fill="#328c06" fill-opacity="0.5" stroke="#328c06" stroke-opacity="0.5" stroke-width="2.78" stroke-linejoin="round"/>
<path d="M267.5,1744.7 L282.1,1743.3 L296.8,1742.2 L311.4,1741.6 L326.1,1741.8 L340.7,1742.9 L355.3,1745.0 L370.0,1748.3 L384.6,1752.5 L399.3,1757.7 L413.9,1763.6 L428.5,1769.9 L443.2,1776.4 L457.8,1782.8 L472.5,1788.6 L487.1,1793.6 L501.7,1797.4 L516.4,1799.7 L531.0,1800.4 L545.7,1799.3 L560.3,1796.4 L574.9,1791.6 L589.6,1785.1 L604.2,1777.1 L618.9,1767.9 L633.5,1757.7 L648.1,1747.1 L662.8,1736.4 L677.4,1726.0 L692.1,1716.3 L706.7,1707.7 L721.3,1700.6 L736.0,1695.0 L750.6,1691.3 L765.3,1689.4 L779.9,1689.4 L794.5,1691.1 L809.2,1694.4 L823.8,1699.0 L838.5,1704.5 L853.1,1711.0 L867.7,1717.5 L882.4,1724.0 L897.0,1730.0 L911.7,1735.4 L926.3,1740.0 L940.9,1743.5 L955.6,1745.9 L970.2,1747.2 L984.9,1747.6 L999.5,1747.2 L1014.1,1746.2 L1028.8,1744.9 L1043.4,1743.5 L1058.1,1742.3 L1072.7,1741.6 L1087.3,1741.7 L1102.0,1742.7 L1116.6,1744.7 L1131.3,1747.7 L1145.9,1751.8 L1160.5,1756.9 L1175.2,1762.7 L1189.8,1769.0 L1204.5,1775.5 L1219.1,1781.9 L1233.7,1787.8 L1248.4,1792.9 L1263.0,1796.9 L1277.7,1799.5 L1292.3,1800.4 L1306.9,1799.6 L1321.6,1796.9 L1336.2,1792.4 L1350.9,1786.1 L1365.5,1778.3 L1380.1,1769.2 L1394.8,1759.2 L1409.4,1748.6 L1424.1,1737.9 L1438.7,1727.5 L1453.3,1717.7 L1468.0,1708.9 L1482.6,1701.5 L1497.3,1695.7 L1511.9,1691.7 L1526.5,1689.5 L1541.2,1689.3 L1555.8,1690.7 L1570.5,1693.8 L1585.1,1698.2 L1599.7,1703.7 L1614.4,1710.1 L1629.0,1716.6 L1643.6,1723.1 L1658.3,1729.2 L1672.9,1734.7 L1687.6,1739.4 L1702.2,1743.0 L1716.8,1745.6 L1731.5,1747.1 L1746.1,1747.6 L1760.8,1747.3 L1775.4,1746.4 L1790.0,1745.1 L1804.7,1743.7 L1819.3,1742.4 L1834.0,1741.7 L1848.6,1741.6 L1863.2,1742.5 L1877.9,1744.3 L1892.5,1747.2 L1907.2,1751.2 L1921.8,1756.1 L1936.4,1761.8 L1951.1,1768.1 L1965.7,1774.6 L1980.4,1781.0 L1995.0,1787.0 L2009.6,1792.3 L2024.3,1796.4 L2038.9,1799.2 L2053.6,1800.4 L2068.2,1799.8 L2082.8,1797.4 L2097.5,1793.1 L2112.1,1787.1 L2126.8,1779.5 L2141.4,1770.6 L2156.0,1760.7 L2170.7,1750.2 L2185.3,1739.4 L2200.0,1728.9 L2214.6,1719.0 L2229.2,1710.1 L2243.9,1702.5 L2258.5,1696.4 L2273.2,1692.1 L2287.8,1689.7 L2302.4,1689.2 L2317.1,1690.4 L2331.7,1693.3 L2346.4,1697.5 L2361.0,1702.9 L2375.6,1708.3 L2390.3,1714.7 L2404.9,1721.2 L2419.6,1727.5 L2434.2,1733.2 L2448.8,1738.1 L2463.5,1742.1 L2478.1,1745.0 L2492.8,1746.8 L2507.4,1747.6 L2522.0,1747.5 L2536.7,1746.7 L2551.3,1745.5 L2566.0,1744.1 L2580.6,1742.8 L2595.2,1741.8 L2609.9,1741.6 L2624.5,1742.1 L2639.2,1743.7 L2653.8,1746.3 L2668.4,1750.0 L2683.1,1754.6 L2697.7,1760.1 L2712.4,1766.3 L2727.0,1772.7 L2741.6,1779.2 L2756.3,1785.4 L2770.9,1790.9 L2785.6,1795.4 L2800.2,1798.6 L2814.8,1800.3 L2829.5,1800.2 L2844.1,1798.3 L2858.8,1794.5 L2873.4,1789.0 L2873.4,1803.4 L2858.8,1809.3 L2844.1,1813.4 L2829.5,1815.6 L2814.8,1815.8 L2800.2,1814.1 L2785.6,1810.9 L2770.9,1806.2 L2756.3,1800.5 L2741.6,1794.1 L2727.0,1787.4 L2712.4,1780.7 L2697.7,1774.4 L2683.1,1768.7 L2668.4,1763.9 L2653.8,1760.1 L2639.2,1757.5 L2624.5,1755.9 L2609.9,1755.4 L2595.2,1755.7 L2580.6,1756.6 L2566.0,1758.0 L2551.3,1759.4 L2536.7,1760.7 L2522.0,1761.6 L2507.4,1761.8 L2492.8,1761.2 L2478.1,1759.6 L2463.5,1756.9 L2448.8,1753.2 L2434.2,1748.5 L2419.6,1743.0 L2404.9,1736.9 L2390.3,1730.5 L2375.6,1724.1 L2361.0,1718.7 L2346.4,1713.2 L2331.7,1708.7 L2317.1,1705.5 L2302.4,1703.9 L2287.8,1704.0 L2273.2,1705.9 L2258.5,1709.7 L2243.9,1715.3 L2229.2,1722.7 L2214.6,1731.4 L2200.0,1741.3 L2185.3,1751.9 L2170.7,1762.9 L2156.0,1773.7 L2141.4,1784.0 L2126.8,1793.3 L2112.1,1801.4 L2097.5,1807.8 L2082.8,1812.5 L2068.2,1815.2 L2053.6,1815.9 L2038.9,1814.8 L2024.3,1812.0 L2009.6,1807.7 L1995.0,1802.2 L1980.4,1796.0 L1965.7,1789.3 L1951.1,1782.6 L1936.4,1776.1 L1921.8,1770.2 L1907.2,1765.2 L1892.5,1761.1 L1877.9,1758.1 L1863.2,1756.3 L1848.6,1755.4 L1834.0,1755.5 L1819.3,1756.3 L1804.7,1757.6 L1790.0,1759.0 L1775.4,1760.4 L1760.8,1761.4 L1746.1,1761.8 L1731.5,1761.5 L1716.8,1760.1 L1702.2,1757.8 L1687.6,1754.3 L1672.9,1749.9 L1658.3,1744.6 L1643.6,1738.7 L1629.0,1732.4 L1614.4,1726.0 L1599.7,1719.6 L1585.1,1714.0 L1570.5,1709.3 L1555.8,1705.9 L1541.2,1704.0 L1526.5,1703.8 L1511.9,1705.5 L1497.3,1709.0 L1482.6,1714.4 L1468.0,1721.5 L1453.3,1730.1 L1438.7,1739.8 L1424.1,1750.4 L1409.4,1761.3 L1394.8,1772.2 L1380.1,1782.6 L1365.5,1792.1 L1350.9,1800.3 L1336.2,1807.0 L1321.6,1811.9 L1306.9,1814.9 L1292.3,1815.9 L1277.7,1815.1 L1263.0,1812.5 L1248.4,1808.4 L1233.7,1803.1 L1219.1,1796.9 L1204.5,1790.3 L1189.8,1783.5 L1175.2,1777.0 L1160.5,1771.0 L1145.9,1765.8 L1131.3,1761.6 L1116.6,1758.5 L1102.0,1756.5 L1087.3,1755.5 L1072.7,1755.5 L1058.1,1756.2 L1043.4,1757.4 L1028.8,1758.8 L1014.1,1760.2 L999.5,1761.3 L984.9,1761.8 L970.2,1761.6 L955.6,1760.4 L940.9,1758.2 L926.3,1754.9 L911.7,1750.6 L897.0,1745.4 L882.4,1739.6 L867.7,1733.3 L853.1,1726.9 L838.5,1720.4 L823.8,1714.7 L809.2,1709.9 L794.5,1706.3 L779.9,1704.2 L765.3,1703.7 L750.6,1705.1 L736.0,1708.4 L721.3,1713.6 L706.7,1720.4 L692.1,1728.8 L677.4,1738.4 L662.8,1748.8 L648.1,1759.7 L633.5,1770.6 L618.9,1781.1 L604.2,1790.8 L589.6,1799.2 L574.9,1806.2 L560.3,1811.3 L545.7,1814.6 L531.0,1815.9 L516.4,1815.3 L501.7,1812.9 L487.1,1809.0 L472.5,1803.9 L457.8,1797.8 L443.2,1791.2 L428.5,1784.5 L413.9,1777.9 L399.3,1771.8 L384.6,1766.5 L370.0,1762.2 L355.3,1758.9 L340.7,1756.7 L326.1,1755.6 L311.4,1755.4 L296.8,1756.0 L282.1,1757.2 L267.5,1758.6Z" fill="#c10c90" fill-opacity="0.5" stroke="#c10c90" stroke-opacity="0.5" stroke-width="2.78" stroke-linejoin="round"/>
<path d="M267.5,1751.9 L282.1,1751.4 L296.8,1751.0 L311.4,1750.5 L326.1,1750.0 L340.7,1749.5 L355.3,1749.1 L370.0,1748.6 L384.6,1748.1 L399.3,1747.6 L413.9,1747.1 L428.5,1746.4 L443.2,1745.8 L457.8,1745.2 L472.5,1744.6 L487.1,1743.9 L501.7,1743.3 L516.4,1742.5 L531.0,1741.8 L545.7,1741.0 L560.3,1740.2 L574.9,1739.4 L589.6,1738.7 L604.2,1737.9 L618.9,1737.1 L633.5,1736.3 L648.1,1735.6 L662.8,1735.0 L677.4,1734.3 L692.1,1733.7 L706.7,1733.2 L721.3,1732.6 L736.0,1732.1 L750.6,1731.5 L765.3,1731.0 L779.9,1730.4 L794.5,1729.9 L809.2,1729.3 L823.8,1728.7 L838.5,1728.2 L853.1,1727.7 L867.7,1727.2 L882.4,1726.7 L897.0,1726.2 L911.7,1725.7 L926.3,1725.1 L940.9,1724.6 L955.6,1724.1 L970.2,1723.6 L984.9,1723.1 L999.5,1722.6 L1014.1,1722.1 L1028.8,1721.7 L1043.4,1721.2 L1058.1,1720.8 L1072.7,1720.3 L1087.3,1719.9 L1102.0,1719.4 L1116.6,1719.0 L1131.3,1718.5 L1145.9,1718.1 L1160.5,1717.6 L1175.2,1717.1 L1189.8,1716.7 L1204.5,1716.2 L1219.1,1715.8 L1233.7,1715.4 L1248.4,1715.1 L1263.0,1714.9 L1277.7,1714.6 L1292.3,1714.4 L1306.9,1714.1 L1321.6,1713.9 L1336.2,1713.6 L1350.9,1713.4 L1365.5,1713.0 L1380.1,1712.6 L1394.8,1712.1 L1409.4,1711.7 L1424.1,1711.3 L1438.7,1710.8 L1453.3,1710.4 L1468.0,1709.9 L1482.6,1709.5 L1497.3,1709.0 L1511.9,1708.6 L1526.5,1708.2 L1541.2,1707.7 L1555.8,1707.3 L1570.5,1707.0 L1585.1,1706.7 L1599.7,1706.4 L1614.4,1706.1 L1629.0,1705.8 L1643.6,1705.5 L1658.3,1705.2 L1672.9,1705.0 L1687.6,1704.7 L1702.2,1704.4 L1716.8,1704.1 L1731.5,1703.8 L1746.1,1703.5 L1760.8,1703.2 L1775.4,1703.0 L1790.0,1702.9 L1804.7,1702.7 L1819.3,1702.6 L1834.0,1702.4 L1848.6,1702.2 L1863.2,1702.1 L1877.9,1701.9 L1892.5,1701.7 L1907.2,1701.6 L1921.8,1701.4 L1936.4,1701.2 L1951.1,1701.1 L1965.7,1700.9 L1980.4,1700.7 L1995.0,1700.4 L2009.6,1700.1 L2024.3,1699.8 L2038.9,1699.5 L2053.6,1699.2 L2068.2,1698.9 L2082.8,1698.6 L2097.5,1698.3 L2112.1,1698.0 L2126.8,1697.7 L2141.4,1697.4 L2156.0,1697.1 L2170.7,1696.8 L2185.3,1696.5 L2200.0,1696.2 L2214.6,1695.9 L2229.2,1695.6 L2243.9,1695.3 L2258.5,1695.0 L2273.2,1694.7 L2287.8,1694.4 L2302.4,1694.1 L2317.1,1693.8 L2331.7,1693.5 L2346.4,1693.1 L2361.0,1692.8 L2375.6,1692.5 L2390.3,1692.1 L2404.9,1691.8 L2419.6,1691.5 L2434.2,1691.1 L2448.8,1690.8 L2463.5,1690.5 L2478.1,1690.1 L2492.8,1689.8 L2507.4,1689.4 L2522.0,1689.1 L2536.7,1688.6 L2551.3,1688.0 L2566.0,1687.4 L2580.6,1686.9 L2595.2,1686.3 L2609.9,1685.8 L2624.5,1685.2 L2639.2,1684.6 L2653.8,1684.1 L2668.4,1683.5 L2683.1,1683.0 L2697.7,1682.4 L2712.4,1681.8 L2727.0,1681.3 L2741.6,1680.7 L2756.3,1680.2 L2770.9,1679.6 L2785.6,1679.1 L2800.2,1678.5 L2814.8,1677.9 L2829.5,1677.4 L2844.1,1676.8 L2858.8,1676.3 L2873.4,1675.7 L2873.4,1709.8 L2858.8,1710.0 L2844.1,1710.2 L2829.5,1710.4 L2814.8,1710.6 L2800.2,1710.8 L2785.6,1711.0 L2770.9,1711.2 L2756.3,1711.4 L2741.6,1711.6 L2727.0,1711.9 L2712.4,1712.1 L2697.7,1712.3 L2683.1,1712.5 L2668.4,1712.7 L2653.8,1712.9 L2639.2,1713.1 L2624.5,1713.3 L2609.9,1713.5 L2595.2,1713.7 L2580.6,1713.9 L2566.0,1714.1 L2551.3,1714.3 L2536.7,1714.5 L2522.0,1714.7 L2507.4,1715.1 L2492.8,1715.4 L2478.1,1715.8 L2463.5,1716.2 L2448.8,1716.5 L2434.2,1716.9 L2419.6,1717.3 L2404.9,1717.6 L2390.3,1718.0 L2375.6,1718.4 L2361.0,1718.7 L2346.4,1719.1 L2331.7,1719.5 L2317.1,1719.8 L2302.4,1720.2 L2287.8,1720.6 L2273.2,1721.0 L2258.5,1721.4 L2243.9,1721.8 L2229.2,1722.3 L2214.6,1722.7 L2200.0,1723.1 L2185.3,1723.5 L2170.7,1723.9 L2156.0,1724.3 L2141.4,1724.7 L2126.8,1725.1 L2112.1,1725.5 L2097.5,1725.9 L2082.8,1726.3 L2068.2,1726.8 L2053.6,1727.2 L2038.9,1727.6 L2024.3,1728.0 L2009.6,1728.4 L1995.0,1728.8 L1980.4,1729.2 L1965.7,1729.4 L1951.1,1729.7 L1936.4,1729.9 L1921.8,1730.1 L1907.2,1730.4 L1892.5,1730.6 L1877.9,1730.9 L1863.2,1731.1 L1848.6,1731.3 L1834.0,1731.6 L1819.3,1731.8 L1804.7,1732.0 L1790.0,1732.3 L1775.4,1732.5 L1760.8,1732.7 L1746.1,1733.1 L1731.5,1733.4 L1716.8,1733.7 L1702.2,1734.1 L1687.6,1734.4 L1672.9,1734.7 L1658.3,1735.1 L1643.6,1735.4 L1629.0,1735.7 L1614.4,1736.1 L1599.7,1736.4 L1585.1,1736.7 L1570.5,1737.1 L1555.8,1737.4 L1541.2,1737.7 L1526.5,1738.0 L1511.9,1738.3 L1497.3,1738.6 L1482.6,1739.0 L1468.0,1739.3 L1453.3,1739.6 L1438.7,1739.9 L1424.1,1740.2 L1409.4,1740.5 L1394.8,1740.8 L1380.1,1741.1 L1365.5,1741.4 L1350.9,1741.7 L1336.2,1741.8 L1321.6,1742.0 L1306.9,1742.1 L1292.3,1742.3 L1277.7,1742.5 L1263.0,1742.6 L1248.4,1742.8 L1233.7,1742.9 L1219.1,1743.3 L1204.5,1743.7 L1189.8,1744.1 L1175.2,1744.5 L1160.5,1744.9 L1145.9,1745.3 L1131.3,1745.7 L1116.6,1746.0 L1102.0,1746.3 L1087.3,1746.7 L1072.7,1747.0 L1058.1,1747.3 L1043.4,1747.7 L1028.8,1748.0 L1014.1,1748.3 L999.5,1748.5 L984.9,1748.7 L970.2,1748.9 L955.6,1749.0 L940.9,1749.2 L926.3,1749.3 L911.7,1749.5 L897.0,1749.6 L882.4,1749.8 L867.7,1749.9 L853.1,1750.1 L838.5,1750.2 L823.8,1750.4 L809.2,1750.5 L794.5,1750.6 L779.9,1750.6 L765.3,1750.7 L750.6,1750.8 L736.0,1750.9 L721.3,1751.0 L706.7,1751.1 L692.1,1751.2 L677.4,1751.3 L662.8,1751.3 L648.1,1751.3 L633.5,1751.4 L618.9,1751.4 L604.2,1751.4 L589.6,1751.5 L574.9,1751.5 L560.3,1751.6 L545.7,1751.6 L531.0,1751.6 L516.4,1751.7 L501.7,1751.7 L487.1,1751.7 L472.5,1751.7 L457.8,1751.7 L443.2,1751.7 L428.5,1751.8 L413.9,1751.8 L399.3,1751.8 L384.6,1751.8 L370.0,1751.8 L355.3,1751.8 L340.7,1751.8 L326.1,1751.9 L311.4,1751.9 L296.8,1751.9 L282.1,1751.9 L267.5,1751.9Z" fill="#933708" fill-opacity="0.5" stroke="#933708" stroke-opacity="0.5" stroke-width="2.78" stroke-linejoin="round"/>
<path d="M267.5,1751.9 L282.1,1751.9 L296.8,1751.9 L311.4,1751.9 L326.1,1751.9 L340.7,1751.9 L355.3,1751.9 L370.0,1751.9 L384.6,1751.9 L399.3,1751.9 L413.9,1751.9 L428.5,1751.9 L443.2,1751.9 L457.8,1751.9 L472.5,1751.9 L487.1,1751.9 L501.7,1751.9 L516.4,1751.9 L531.0,1751.9 L545.7,1751.9 L560.3,1751.9 L574.9,1751.9 L589.6,1751.9 L604.2,1751.9 L618.9,1751.9 L633.5,1751.9 L648.1,1751.9 L662.8,1751.9 L677.4,1751.9 L692.1,1751.9 L706.7,1751.9 L721.3,1751.9 L736.0,1751.9 L750.6,1751.9 L765.3,1751.9 L779.9,1751.9 L794.5,1751.9 L809.2,1751.9 L823.8,1751.9 L838.5,1751.9 L853.1,1751.9 L867.7,1751.9 L882.4,1751.9 L897.0,1751.9 L911.7,1751.9 L926.3,1751.9 L940.9,1751.9 L955.6,1751.9 L970.2,1751.9 L984.9,1751.9 L999.5,1751.9 L1014.1,1751.9 L1028.8,1751.9 L1043.4,1751.9 L1058.1,1751.9 L1072.7,1751.9 L1087.3,1751.9 L1102.0,1751.9 L1116.6,1557.6 L1131.3,1751.9 L1145.9,1751.9 L1160.5,1751.9 L1175.2,1751.9 L1189.8,1751.9 L1204.5,1751.9 L1219.1,1751.9 L1233.7,1751.9 L1248.4,1751.9 L1263.0,1751.9 L1277.7,1751.9 L1292.3,1751.9 L1306.9,1751.9 L1321.6,1751.9 L1336.2,1751.9 L1350.9,1751.9 L1365.5,1751.9 L1380.1,1751.9 L1394.8,1751.9 L1409.4,1751.9 L1424.1,1751.9 L1438.7,1751.9 L1453.3,1751.9 L1468.0,1751.9 L1482.6,1751.9 L1497.3,1751.9 L1511.9,1751.9 L1526.5,1751.9 L1541.2,1751.9 L1555.8,1751.9 L1570.5,1751.9 L1585.1,1751.9 L1599.7,1751.9 L1614.4,1751.9 L1629.0,1751.9 L1643.6,1751.9 L1658.3,1751.9 L1672.9,1751.9 L1687.6,1751.9 L1702.2,1751.9 L1716.8,1751.9 L1731.5,1751.9 L1746.1,1751.9 L1760.8,1751.9 L1775.4,1751.9 L1790.0,1751.9 L1804.7,1751.9 L1819.3,1751.9 L1834.0,1751.9 L1848.6,1751.9 L1863.2,1751.9 L1877.9,1751.9 L1892.5,1751.9 L1907.2,1751.9 L1921.8,1751.9 L1936.4,1751.9 L1951.1,1751.9 L1965.7,1751.9 L1980.4,1751.9 L1995.0,1751.9 L2009.6,1751.9 L2024.3,1751.9 L2038.9,1751.9 L2053.6,1751.9 L2068.2,1751.9 L2082.8,1751.9 L2097.5,1751.9 L2112.1,1751.9 L2126.8,1751.9 L2141.4,1751.9 L2156.0,1751.9 L2170.7,1751.9 L2185.3,1751.9 L2200.0,1751.9 L2214.6,1751.9 L2229.2,1751.9 L2243.9,1751.9 L2258.5,1751.9 L2273.2,1751.9 L2287.8,1751.9 L2302.4,1751.9 L2317.1,1751.9 L2331.7,1751.9 L2346.4,1751.9 L2361.0,1751.9 L2375.6,1751.9 L2390.3,1751.9 L2404.9,1751.9 L2419.6,1751.9 L2434.2,1751.9 L2448.8,1751.9 L2463.5,1751.9 L2478.1,1751.9 L2492.8,1751.9 L2507.4,1751.9 L2522.0,1751.9 L2536.7,1751.9 L2551.3,1751.9 L2566.0,1751.9 L2580.6,1751.9 L2595.2,1751.9 L2609.9,1751.9 L2624.5,1751.9 L2639.2,1751.9 L2653.8,1751.9 L2668.4,1751.9 L2683.1,1751.9 L2697.7,1751.9 L2712.4,1751.9 L2727.0,1751.9 L2741.6,1751.9 L2756.3,1751.9 L2770.9,1751.9 L2785.6,1751.9 L2800.2,1751.9 L2814.8,1751.9 L2829.5,1751.9 L2844.1,1751.9 L2858.8,1751.9 L2873.4,1751.9 L2873.4,1751.9 L2858.8,1751.9 L2844.1,1751.9 L2829.5,1751.9 L2814.8,1751.9 L2800.2,1751.9 L2785.6,1751.9 L2770.9,1751.9 L2756.3,1751.9 L2741.6,1751.9 L2727.0,1751.9 L2712.4,1751.9 L2697.7,1751.9 L2683.1,1751.9 L2668.4,1751.9 L2653.8,1751.9 L2639.2,1751.9 L2624.5,1751.9 L2609.9,1751.9 L2595.2,1751.9 L2580.6,1751.9 L2566.0,1751.9 L2551.3,1751.9 L2536.7,1751.9 L2522.0,1751.9 L2507.4,1751.9 L2492.8,1751.9 L2478.1,1751.9 L2463.5,1751.9 L2448.8,1751.9 L2434.2,1751.9 L2419.6,1751.9 L2404.9,1751.9 L2390.3,1751.9 L2375.6,1751.9 L2361.0,1751.9 L2346.4,1751.9 L2331.7,1751.9 L2317.1,1751.9 L2302.4,1751.9 L2287.8,1751.9 L2273.2,1751.9 L2258.5,1751.9 L2243.9,1751.9 L2229.2,1751.9 L2214.6,1751.9 L2200.0,1751.9 L2185.3,1751.9 L2170.7,1751.9 L2156.0,1751.9 L2141.4,1751.9 L2126.8,1751.9 L2112.1,1751.9 L2097.5,1751.9 L2082.8,1751.9 L2068.2,1751.9 L2053.6,1751.9 L2038.9,1751.9 L2024.3,1751.9 L2009.6,1751.9 L1995.0,1751.9 L1980.4,1751.9 L1965.7,1751.9 L1951.1,1751.9 L1936.4,1751.9 L1921.8,1751.9 L1907.2,1751.9 L1892.5,1751.9 L1877.9,1751.9 L1863.2,1751.9 L1848.6,1751.9 L1834.0,1751.9 L1819.3,1751.9 L1804.7,1751.9 L1790.0,1751.9 L1775.4,1751.9 L1760.8,1751.9 L1746.1,1751.9 L1731.5,1751.9 L1716.8,1751.9 L1702.2,1751.9 L1687.6,1751.9 L1672.9,1751.9 L1658.3,1751.9 L1643.6,1751.9 L1629.0,1751.9 L1614.4,1751.9 L1599.7,1751.9 L1585.1,1751.9 L1570.5,1751.9 L1555.8,1751.9 L1541.2,1751.9 L1526.5,1751.9 L1511.9,1751.9 L1497.3,1751.9 L1482.6,1751.9 L1468.0,1751.9 L1453.3,1751.9 L1438.7,1751.9 L1424.1,1751.9 L1409.4,1751.9 L1394.8,1751.9 L1380.1,1751.9 L1365.5,1751.9 L1350.9,1751.9 L1336.2,1751.9 L1321.6,1751.9 L1306.9,1751.9 L1292.3,1751.9 L1277.7,1751.9 L1263.0,1751.9 L1248.4,1751.9 L1233.7,1751.9 L1219.1,1751.9 L1204.5,1751.9 L1189.8,1751.9 L1175.2,1751.9 L1160.5,1751.9 L1145.9,1751.9 L1131.3,1751.9 L1116.6,1628.8 L1102.0,1751.9 L1087.3,1751.9 L1072.7,1751.9 L1058.1,1751.9 L1043.4,1751.9 L1028.8,1751.9 L1014.1,1751.9 L999.5,1751.9 L984.9,1751.9 L970.2,1751.9 L955.6,1751.9 L940.9,1751.9 L926.3,1751.9 L911.7,1751.9 L897.0,1751.9 L882.4,1751.9 L867.7,1751.9 L853.1,1751.9 L838.5,1751.9 L823.8,1751.9 L809.2,1751.9 L794.5,1751.9 L779.9,1751.9 L765.3,1751.9 L750.6,1751.9 L736.0,1751.9 L721.3,1751.9 L706.7,1751.9 L692.1,1751.9 L677.4,1751.9 L662.8,1751.9 L648.1,1751.9 L633.5,1751.9 L618.9,1751.9 L604.2,1751.9 L589.6,1751.9 L574.9,1751.9 L560.3,1751.9 L545.7,1751.9 L531.0,1751.9 L516.4,1751.9 L501.7,1751.9 L487.1,1751.9 L472.5,1751.9 L457.8,1751.9 L443.2,1751.9 L428.5,1751.9 L413.9,1751.9 L399.3,1751.9 L384.6,1751.9 L370.0,1751.9 L355.3,1751.9 L340.7,1751.9 L326.1,1751.9 L311.4,1751.9 L296.8,1751.9 L282.1,1751.9 L267.5,1751.9Z" fill="#65e5f3" fill-opacity="0.5" stroke="#65e5f3" stroke-opacity="0.5" stroke-width="2.78" stroke-linejoin="round"/>
<path d="M267.5,1751.9 L282.1,1751.9 L296.8,1751.9 L311.4,1751.9 L326.1,1751.9 L340.7,1751.9 L355.3,1751.9 L370.0,1751.9 L384.6,1751.9 L399.3,1751.9 L413.9,1751.9 L428.5,1751.9 L443.2,1751.9 L457.8,1751.9 L472.5,1751.9 L487.1,1751.9 L501.7,1751.9 L516.4,1751.9 L531.0,1751.9 L545.7,1751.9 L560.3,1751.9 L574.9,1751.9 L589.6,1751.9 L604.2,1751.9 L618.9,1751.9 L633.5,1751.9 L648.1,1751.9 L662.8,1751.9 L677.4,1751.9 L692.1,1751.9 L706.7,1751.9 L721.3,1751.9 L736.0,1751.9 L750.6,1751.9 L765.3,1751.9 L779.9,1751.9 L794.5,1751.9 L809.2,1751.9 L823.8,1751.9 L838.5,1751.9 L853.1,1751.9 L867.7,1751.9 L882.4,1751.9 L897.0,1751.9 L911.7,1751.9 L926.3,1751.9 L940.9,1751.9 L955.6,1751.9 L970.2,1751.9 L984.9,1751.9 L999.5,1751.9 L1014.1,1751.9 L1028.8,1751.9 L1043.4,1751.9 L1058.1,1751.9 L1072.7,1751.9 L1087.3,1751.9 L1102.0,1751.9 L1116.6,1751.9 L1131.3,1751.9 L1145.9,1751.9 L1160.5,1751.9 L1175.2,1751.9 L1189.8,1751.9 L1204.5,1751.9 L1219.1,1751.9 L1233.7,1751.9 L1248.4,1751.9 L1263.0,1751.9 L1277.7,1751.9 L1292.3,1751.9 L1306.9,1751.9 L1321.6,1751.9 L1336.2,1751.9 L1350.9,1751.9 L1365.5,1751.9 L1380.1,1751.9 L1394.8,1751.9 L1409.4,1751.9 L1424.1,1751.9 L1438.7,1751.9 L1453.3,1751.9 L1468.0,1751.9 L1482.6,1751.9 L1497.3,1751.9 L1511.9,1751.9 L1526.5,1751.9 L1541.2,1751.9 L1555.8,1751.9 L1570.5,1751.9 L1585.1,1751.9 L1599.7,1751.9 L1614.4,1751.9 L1629.0,1751.9 L1643.6,1751.9 L1658.3,1751.9 L1672.9,1751.9 L1687.6,1751.9 L1702.2,1751.9 L1716.8,1751.9 L1731.5,1751.9 L1746.1,1751.9 L1760.8,1751.9 L1775.4,1751.9 L1790.0,1751.9 L1804.7,1751.9 L1819.3,1751.9 L1834.0,1751.9 L1848.6,1751.9 L1863.2,1751.9 L1877.9,1751.9 L1892.5,1751.9 L1907.2,1751.9 L1921.8,1751.9 L1936.4,1751.9 L1951.1,1751.9 L1965.7,1751.9 L1980.4,1751.9 L1995.0,1751.9 L2009.6,1751.9 L2024.3,1751.9 L2038.9,1751.9 L2053.6,1751.9 L2068.2,1751.9 L2082.8,1751.9 L2097.5,1751.9 L2112.1,1751.9 L2126.8,1751.9 L2141.4,1520.6 L2156.0,1751.9 L2170.7,1751.9 L2185.3,1751.9 L2200.0,1751.9 L2214.6,1751.9 L2229.2,1751.9 L2243.9,1751.9 L2258.5,1751.9 L2273.2,1751.9 L2287.8,1751.9 L2302.4,1751.9 L2317.1,1751.9 L2331.7,1751.9 L2346.4,1751.9 L2361.0,1751.9 L2375.6,1751.9 L2390.3,1751.9 L2404.9,1751.9 L2419.6,1751.9 L2434.2,1751.9 L2448.8,1751.9 L2463.5,1751.9 L2478.1,1751.9 L2492.8,1751.9 L2507.4,1751.9 L2522.0,1751.9 L2536.7,1751.9 L2551.3,1751.9 L2566.0,1751.9 L2580.6,1751.9 L2595.2,1751.9 L2609.9,1751.9 L2624.5,1751.9 L2639.2,1751.9 L2653.8,1751.9 L2668.4,1751.9 L2683.1,1751.9 L2697.7,1751.9 L2712.4,1751.9 L2727.0,1751.9 L2741.6,1751.9 L2756.3,1751.9 L2770.9,1751.9 L2785.6,1751.9 L2800.2,1751.9 L2814.8,1751.9 L2829.5,1751.9 L2844.1,1751.9 L2858.8,1751.9 L2873.4,1751.9 L2873.4,1751.9 L2858.8,1751.9 L2844.1,1751.9 L2829.5,1751.9 L2814.8,1751.9 L2800.2,1751.9 L2785.6,1751.9 L2770.9,1751.9 L2756.3,1751.9 L2741.6,1751.9 L2727.0,1751.9 L2712.4,1751.9 L2697.7,1751.9 L2683.1,1751.9 L2668.4,1751.9 L2653.8,1751.9 L2639.2,1751.9 L2624.5,1751.9 L2609.9,1751.9 L2595.2,1751.9 L2580.6,1751.9 L2566.0,1751.9 L2551.3,1751.9 L2536.7,1751.9 L2522.0,1751.9 L2507.4,1751.9 L2492.8,1751.9 L2478.1,1751.9 L2463.5,1751.9 L2448.8,1751.9 L2434.2,1751.9 L2419.6,1751.9 L2404.9,1751.9 L2390.3,1751.9 L2375.6,1751.9 L2361.0,1751.9 L2346.4,1751.9 L2331.7,1751.9 L2317.1,1751.9 L2302.4,1751.9 L2287.8,1751.9 L2273.2,1751.9 L2258.5,1751.9 L2243.9,1751.9 L2229.2,1751.9 L2214.6,1751.9 L2200.0,1751.9 L2185.3,1751.9 L2170.7,1751.9 L2156.0,1751.9 L2141.4,1600.9 L2126.8,1751.9 L2112.1,1751.9 L2097.5,1751.9 L2082.8,1751.9 L2068.2,1751.9 L2053.6,1751.9 L2038.9,1751.9 L2024.3,1751.9 L2009.6,1751.9 L1995.0,1751.9 L1980.4,1751.9 L1965.7,1751.9 L1951.1,1751.9 L1936.4,1751.9 L1921.8,1751.9 L1907.2,1751.9 L1892.5,1751.9 L1877.9,1751.9 L1863.2,1751.9 L1848.6,1751.9 L1834.0,1751.9 L1819.3,1751.9 L1804.7,1751.9 L1790.0,1751.9 L1775.4,1751.9 L1760.8,1751.9 L1746.1,1751.9 L1731.5,1751.9 L1716.8,1751.9 L1702.2,1751.9 L1687.6,1751.9 L1672.9,1751.9 L1658.3,1751.9 L1643.6,1751.9 L1629.0,1751.9 L1614.4,1751.9 L1599.7,1751.9 L1585.1,1751.9 L1570.5,1751.9 L1555.8,1751.9 L1541.2,1751.9 L1526.5,1751.9 L1511.9,1751.9 L1497.3,1751.9 L1482.6,1751.9 L1468.0,1751.9 L1453.3,1751.9 L1438.7,1751.9 L1424.1,1751.9 L1409.4,1751.9 L1394.8,1751.9 L1380.1,1751.9 L1365.5,1751.9 L1350.9,1751.9 L1336.2,1751.9 L1321.6,1751.9 L1306.9,1751.9 L1292.3,1751.9 L1277.7,1751.9 L1263.0,1751.9 L1248.4,1751.9 L1233.7,1751.9 L1219.1,1751.9 L1204.5,1751.9 L1189.8,1751.9 L1175.2,1751.9 L1160.5,1751.9 L1145.9,1751.9 L1131.3,1751.9 L1116.6,1751.9 L1102.0,1751.9 L1087.3,1751.9 L1072.7,1751.9 L1058.1,1751.9 L1043.4,1751.9 L1028.8,1751.9 L1014.1,1751.9 L999.5,1751.9 L984.9,1751.9 L970.2,1751.9 L955.6,1751.9 L940.9,1751.9 L926.3,1751.9 L911.7,1751.9 L897.0,1751.9 L882.4,1751.9 L867.7,1751.9 L853.1,1751.9 L838.5,1751.9 L823.8,1751.9 L809.2,1751.9 L794.5,1751.9 L779.9,1751.9 L765.3,1751.9 L750.6,1751.9 L736.0,1751.9 L721.3,1751.9 L706.7,1751.9 L692.1,1751.9 L677.4,1751.9 L662.8,1751.9 L648.1,1751.9 L633.5,1751.9 L618.9,1751.9 L604.2,1751.9 L589.6,1751.9 L574.9,1751.9 L560.3,1751.9 L545.7,1751.9 L531.0,1751.9 L516.4,1751.9 L501.7,1751.9 L487.1,1751.9 L472.5,1751.9 L457.8,1751.9 L443.2,1751.9 L428.5,1751.9 L413.9,1751.9 L399.3,1751.9 L384.6,1751.9 L370.0,1751.9 L355.3,1751.9 L340.7,1751.9 L326.1,1751.9 L311.4,1751.9 L296.8,1751.9 L282.1,1751.9 L267.5,1751.9Z" fill="#e6e135" fill-opacity="0.5" stroke="#e6e135" stroke-opacity="0.5" stroke-width="2.78" stroke-linejoin="round"/>
<path d="M267.5,1449.6 L282.1,1501.0 L296.8,1468.7 L311.4,1521.3 L326.1,1455.6 L340.7,1508.3 L355.3,1354.8 L370.0,1305.4 L384.6,1419.4 L399.3,1317.9 L413.9,1377.0 L428.5,1459.1 L443.2,1421.7 L457.8,1323.2 L472.5,1411.8 L487.1,1411.0 L501.7,1412.1 L516.4,1420.5 L531.0,1457.2 L545.7,1539.8 L560.3,1391.5 L574.9,1556.8 L589.6,1448.5 L604.2,1418.9 L618.9,1547.7 L633.5,1501.5 L648.1,1507.9 L662.8,1505.0 L677.4,1496.6 L692.1,1431.7 L706.7,1295.2 L721.3,1378.0 L736.0,1259.7 L750.6,1378.0 L765.3,1216.8 L779.9,1359.5 L794.5,1485.8 L809.2,1306.5 L823.8,1267.9 L838.5,1250.2 L853.1,1318.0 L867.7,1323.9 L882.4,1364.8 L897.0,1293.0 L911.7,1502.2 L926.3,1360.3 L940.9,1219.4 L955.6,1307.5 L970.2,1355.5 L984.9,1475.9 L999.5,1326.1 L1014.1,1392.6 L1028.8,1419.4 L1043.4,1455.0 L1058.1,1406.8 L1072.7,1280.2 L1087.3,1415.4 L1102.0,1467.4 L1116.6,1252.2 L1131.3,1429.6 L1145.9,1418.2 L1160.5,1357.2 L1175.2,1417.6 L1189.8,1399.2 L1204.5,1446.4 L1219.1,1266.8 L1233.7,1386.8 L1248.4,1478.7 L1263.0,1471.8 L1277.7,1382.6 L1292.3,1493.9 L1306.9,1474.8 L1321.6,1352.4 L1336.2,1342.8 L1350.9,1482.9 L1365.5,1232.7 L1380.1,1369.4 L1394.8,1381.1 L1409.4,1249.8 L1424.1,1419.7 L1438.7,1429.3 L1453.3,1305.7 L1468.0,1316.2 L1482.6,1358.8 L1497.3,1171.3 L1511.9,1280.3 L1526.5,1409.5 L1541.2,1456.7 L1555.8,1216.6 L1570.5,1208.5 L1585.1,1206.0 L1599.7,1376.6 L1614.4,1308.5 L1629.0,1316.9 L1643.6,1392.3 L1658.3,1251.0 L1672.9,1365.9 L1687.6,1361.1 L1702.2,1335.0 L1716.8,1446.6 L1731.5,1413.0 L1746.1,1409.5 L1760.8,1360.7 L1775.4,1387.2 L1790.0,1321.1 L1804.7,1404.6 L1819.3,1304.3 L1834.0,1330.0 L1848.6,1317.4 L1863.2,1350.5 L1877.9,1455.2 L1892.5,1444.0 L1907.2,1378.7 L1921.8,1443.8 L1936.4,1231.4 L1951.1,1250.6 L1965.7,1451.6 L1980.4,1419.1 L1995.0,1407.2 L2009.6,1503.5 L2024.3,1545.2 L2038.9,1467.5 L2053.6,1415.9 L2068.2,1415.1 L2082.8,1450.1 L2097.5,1415.6 L2112.1,1501.6 L2126.8,1400.6 L2141.4,1293.3 L2156.0,1419.0 L2170.7,1366.9 L2185.3,1433.0 L2200.0,1424.8 L2214.6,1319.2 L2229.2,1252.9 L2243.9,1405.9 L2258.5,1348.6 L2273.2,1305.0 L2287.8,1377.6 L2302.4,1397.8 L2317.1,1333.8 L2331.7,1355.3 L2346.4,1259.7 L2361.0,1354.8 L2375.6,1399.0 L2390.3,1362.8 L2404.9,1448.4 L2419.6,1387.3 L2434.2,1374.5 L2448.8,1398.8 L2463.5,1417.9 L2478.1,1312.6 L2492.8,1376.6 L2507.4,1347.4 L2522.0,1372.5 L2536.7,1321.8 L2551.3,1425.9 L2566.0,1426.8 L2580.6,1432.0 L2595.2,1269.3 L2609.9,1253.4 L2624.5,1279.2 L2639.2,1316.2 L2653.8,1266.1 L2668.4,1374.0 L2683.1,1393.4 L2697.7,1415.3 L2712.4,1428.6 L2727.0,1447.2 L2741.6,1442.1 L2756.3,1328.5 L2770.9,1439.4 L2785.6,1500.0 L2800.2,1521.6 L2814.8,1460.6 L2829.5,1368.6 L2844.1,1484.3 L2858.8,1421.1 L2873.4,1428.0" fill="none" stroke="#000000" stroke-width="4.17" stroke-linejoin="round" stroke-linecap="round"/>
</g>
<text x="127.6" y="1760.8" font-size="22.22" text-anchor="end">0</text>
<text x="127.6" y="1623.2" font-size="22.22" text-anchor="end">2000</text>
<text x="127.6" y="1485.7" font-size="22.22" text-anchor="end">4000</text>
<text x="127.6" y="1348.1" font-size="22.22" text-anchor="end">6000</text>
<text x="127.6" y="1210.6" font-size="22.22" text-anchor="end">8000</text>
<text x="455.7" y="1885.3" font-size="27.78" text-anchor="middle">2018-07</text>
<text x="840.5" y="1885.3" font-size="27.78" text-anchor="middle">2019-01</text>
<text x="1219.1" y="1885.3" font-size="27.78" text-anchor="middle">2019-07</text>
<text x="1603.9" y="1885.3" font-size="27.78" text-anchor="middle">2020-01</text>
<text x="1984.5" y="1885.3" font-size="27.78" text-anchor="middle">2020-07</text>
<text x="2369.4" y="1885.3" font-size="27.78" text-anchor="middle">2021-01</text>
<text x="2747.9" y="1885.3" font-size="27.78" text-anchor="middle">2021-07</text>
<text x="1570.0" y="1934.0" font-size="41.67" text-anchor="middle">date</text>
<text x="1570.0" y="1123.0" font-size="44.44" text-anchor="middle">geo_b</text>
<text transform="translate(50.7,1498.6) rotate(-90)" font-size="41.67" text-anchor="middle">y</text>
<rect x="413.5" y="1962.2" width="77.8" height="27.2" fill="#2a2eec" fill-opacity="0.5" stroke="#2a2eec" stroke-opacity="0.5" stroke-width="2.78"/>
<text x="522.4" y="1990.2" font-size="38.89">94% HDI (x1)</text>
<rect x="413.5" y="2020.2" width="77.8" height="27.2" fill="#fa7c17" fill-opacity="0.5" stroke="#fa7c17" stroke-opacity="0.5" stroke-width="2.78"/>
<text x="522.4" y="2048.2" font-size="38.89">94% HDI (x2)</text>
<rect x="860.9" y="1962.2" width="77.8" height="27.2" fill="#328c06" fill-opacity="0.5" stroke="#328c06" stroke-opacity="0.5" stroke-width="2.78"/>
<text x="969.8" y="1990.2" font-size="38.89">94% HDI intercept</text>
<rect x="860.9" y="2020.2" width="77.8" height="27.2" fill="#c10c90" fill-opacity="0.5" stroke="#c10c90" stroke-opacity="0.5" stroke-width="2.78"/>
<text x="969.8" y="2048.2" font-size="38.89">94% HDI Fourier</text>
<rect x="1403.9" y="1962.2" width="77.8" height="27.2" fill="#933708" fill-opacity="0.5" stroke="#933708" stroke-opacity="0.5" stroke-width="2.78"/>
<text x="1512.8" y="1990.2" font-size="38.89">94% HDI Trend</text>
<rect x="1403.9" y="2020.2" width="77.8" height="27.2" fill="#65e5f3" fill-opacity="0.5" stroke="#65e5f3" stroke-opacity="0.5" stroke-width="2.78"/>
<text x="1512.8" y="2048.2" font-size="38.89">94% HDI control (event_1)</text>
<rect x="2104.2" y="1962.2" width="77.8" height="27.2" fill="#e6e135" fill-opacity="0.5" stroke="#e6e135" stroke-opacity="0.5" stroke-width="2.78"/>
<text x="2213.1" y="1990.2" font-size="38.89">94% HDI control (event_2)</text>
<path d="M2104.2,2033.8H2182.0" stroke="#000" stroke-width="4.17" stroke-linecap="round"/>
<text x="2213.1" y="2048.2" font-size="38.89">y</text>
</svg>
</body></html>
